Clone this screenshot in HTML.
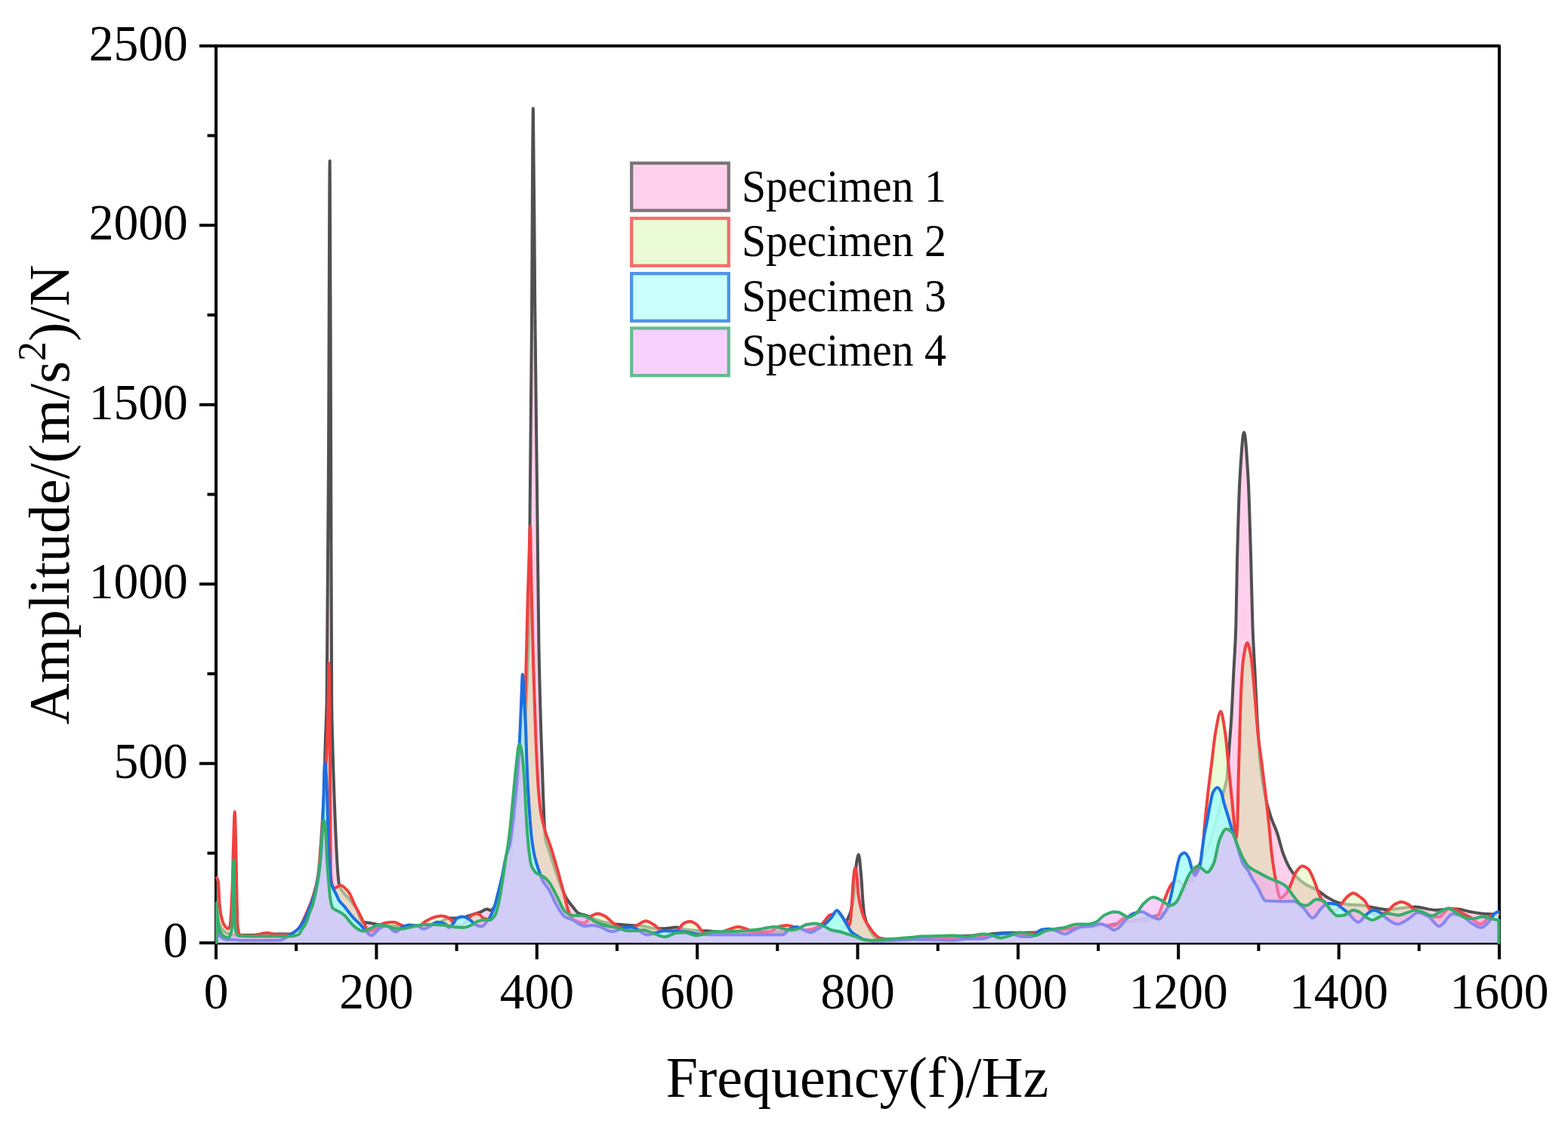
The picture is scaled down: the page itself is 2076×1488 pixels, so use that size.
<!DOCTYPE html>
<html><head><meta charset="utf-8"><style>
html,body{margin:0;padding:0;background:#fff;}
svg{display:block;}
text{font-family:"Liberation Serif","Times New Roman",serif;fill:#000;}
</style></head><body>
<svg width="2076" height="1488" viewBox="0 0 2076 1488">
<rect width="2076" height="1488" fill="#fff"/>
<g stroke="#000" stroke-width="4" fill="none" stroke-linecap="butt" stroke-linejoin="round">
<rect x="286" y="60.8" width="1699" height="1187.6"/>
<path d="M264,1248.3H286M264,1010.8H286M264,773.3H286M264,535.7H286M264,298.2H286M264,60.7H286M274.5,1129.5H286M274.5,892.0H286M274.5,654.5H286M274.5,417.0H286M274.5,179.5H286M286.0,1248.3V1270M498.4,1248.3V1270M710.8,1248.3V1270M923.1,1248.3V1270M1135.5,1248.3V1270M1347.9,1248.3V1270M1560.2,1248.3V1270M1772.6,1248.3V1270M1985.0,1248.3V1270M392.2,1248.3V1259M604.6,1248.3V1259M816.9,1248.3V1259M1029.3,1248.3V1259M1241.7,1248.3V1259M1454.1,1248.3V1259M1666.4,1248.3V1259M1878.8,1248.3V1259"/>
</g>
<defs>
<clipPath id="plot"><rect x="286" y="58" width="1699" height="1190"/></clipPath>
<clipPath id="cg"><path d="M287,1205C288,1212 289,1219.26 290,1222C292,1227.48 294,1230.1 296,1232C298,1233.9 300,1235.46 302,1236C306.33,1237.17 310.67,1238 315,1238C320,1238 325,1238 330,1238C336.67,1238 343.33,1237.24 350,1237C356,1236.79 362,1236.5 368,1236.5C373.33,1236.5 378.67,1236.5 384,1236.5C387.67,1236.5 391.33,1234.31 395,1232C399,1229.48 403,1222.37 407,1215C409.67,1210.09 412.33,1203.43 415,1195C417,1188.67 419,1181.06 421,1170C422.67,1160.78 424.33,1151.23 426,1130C426.93,1118.11 427.87,1089.09 428.8,1060C429.47,1039.22 430.13,1001.79 430.8,980C431.4,960.39 432,956.88 432.6,930C433.4,894.16 434.2,739.11 435,600C435.57,501.46 436.13,213 436.7,213C437.17,213 437.63,465.5 438.1,600C438.47,705.67 438.83,898.92 439.2,930C439.53,958.25 439.87,966.91 440.2,980C441.37,1025.83 442.53,1056.85 443.7,1084.8C444.87,1112.75 446.03,1140.56 447.2,1154.7C447.77,1161.57 448.33,1168.07 448.9,1170.4C449.93,1174.64 450.97,1176.23 452,1178C455.33,1183.71 458.67,1185.84 462,1190C465.33,1194.16 468.67,1197.48 472,1203C474.67,1207.42 477.33,1220.24 480,1220.8C483.47,1221.53 486.93,1221.42 490.4,1221.9C493.87,1222.38 497.33,1223.51 500.8,1224C507.2,1224.91 513.6,1226 520,1226C526.67,1226 533.33,1226 540,1226C546.67,1226 553.33,1225.5 560,1225C566.67,1224.5 573.33,1223.53 580,1222C584.87,1220.88 589.73,1215.6 594.6,1215.6C597.4,1215.6 600.2,1215.6 603,1215.6C607,1215.6 611,1214.75 615,1214C618.33,1213.38 621.67,1212.04 625,1211C628.75,1209.82 632.5,1208.73 636.25,1207.3C639.03,1206.24 641.82,1203.6 644.6,1203.6C646.33,1203.6 648.07,1205.2 649.8,1205.2C651.53,1205.2 653.27,1202.16 655,1200C657.33,1197.09 659.67,1193.26 662,1188C664.33,1182.74 666.67,1174.25 669,1165C671.33,1155.75 673.67,1143.38 676,1130C678,1118.53 680,1103.33 682,1090C684,1076.67 686,1065.34 688,1050C689.5,1038.49 691,1027.75 692.5,1010C693.5,998.17 694.5,980.54 695.5,960C696.27,944.25 697.03,922.32 697.8,900C698.8,870.89 699.8,862.18 700.8,800C701.07,783.42 701.33,713.8 701.6,680C702.33,587.06 703.07,539.45 703.8,450C704.5,364.61 705.2,143.5 705.9,143.5C706.67,143.5 707.43,324.32 708.2,400C709.27,505.29 710.33,587.16 711.4,680C712.07,738.03 712.73,816.08 713.4,853.3C714.37,907.28 715.33,935.78 716.3,968.8C717.27,1001.82 718.23,1032.81 719.2,1055.5C720.13,1077.41 721.07,1104.04 722,1109.7C723.63,1119.61 725.27,1120.72 726.9,1126C729.67,1134.95 732.43,1143.71 735.2,1152C737.63,1159.29 740.07,1167.04 742.5,1173C745.27,1179.78 748.03,1186.15 750.8,1190.6C753.2,1194.46 755.6,1197.12 758,1200C760.83,1203.4 763.67,1208.12 766.5,1209.4C769.6,1210.8 772.7,1210.97 775.8,1212C780.33,1213.5 784.87,1216.19 789.4,1217.7C794.6,1219.44 799.8,1221.08 805,1222C808.47,1222.61 811.93,1223.05 815.4,1223.4C822.35,1224.1 829.3,1224.52 836.25,1225C841.47,1225.36 846.68,1225.49 851.9,1226C857.1,1226.51 862.3,1229.2 867.5,1229.2C871.67,1229.2 875.83,1229.2 880,1229.2C885.2,1229.2 890.4,1227.6 895.6,1227.6C900.4,1227.6 905.2,1230.55 910,1231C918,1231.74 926,1231.83 934,1232.3C942.67,1232.81 951.33,1234 960,1234C973.33,1234 986.67,1234 1000,1234C1013.33,1234 1026.67,1233 1040,1233C1050,1233 1060,1234.29 1070,1235C1076.67,1235.47 1083.33,1236.5 1090,1236.5C1095,1236.5 1100,1236.35 1105,1236C1107.33,1235.84 1109.67,1234.51 1112,1233C1113.67,1231.92 1115.33,1229.5 1117,1227C1118.57,1224.65 1120.13,1221.03 1121.7,1217.7C1123.07,1214.79 1124.43,1212.4 1125.8,1208.3C1127.2,1204.1 1128.6,1199.46 1130,1190C1131,1183.24 1132,1157.35 1133,1150C1134.27,1140.69 1135.53,1131.2 1136.8,1131.2C1138,1131.2 1139.2,1149.02 1140.4,1162.5C1141.1,1170.36 1141.8,1185.94 1142.5,1193.75C1143.2,1201.56 1143.9,1209.44 1144.6,1212.5C1147.4,1224.74 1150.2,1228.27 1153,1233.3C1154.67,1236.3 1156.33,1239.35 1158,1240.6C1160.33,1242.35 1162.67,1244 1165,1244C1176.67,1244 1188.33,1243.44 1200,1243C1216.67,1242.37 1233.33,1240.8 1250,1240C1266.67,1239.2 1283.33,1239.07 1300,1238C1307.23,1237.54 1314.47,1235.69 1321.7,1235.4C1337.3,1234.78 1352.9,1234.94 1368.5,1234.4C1379,1234.04 1389.5,1232.9 1400,1232C1413.33,1230.85 1426.67,1229.44 1440,1228C1450,1226.92 1460,1225.93 1470,1224.5C1480,1223.07 1490,1221.1 1500,1219C1513.33,1216.2 1526.67,1214.64 1540,1209C1548.33,1205.47 1556.67,1193.72 1565,1183C1571.67,1174.42 1578.33,1162.11 1585,1150C1590,1140.92 1595,1132.62 1600,1120C1604,1109.91 1608,1094.54 1612,1080C1614.73,1070.06 1617.47,1058.55 1620.2,1047.6C1621.53,1042.26 1622.87,1039.82 1624.2,1031.4C1625.23,1024.88 1626.27,1004.84 1627.3,991.2C1628.3,978 1629.3,967.03 1630.3,950.9C1631.3,934.77 1632.3,910.55 1633.3,890.4C1634.3,870.25 1635.3,860.28 1636.3,830C1636.87,812.84 1637.43,763.79 1638,741.4C1639.2,693.98 1640.4,652.58 1641.6,632.6C1643.43,602.07 1645.27,572.2 1647.1,572.2C1648.9,572.2 1650.7,602.59 1652.5,632.6C1653.73,653.16 1654.97,699.83 1656.2,741.4C1656.97,767.24 1657.73,809.44 1658.5,830C1659.5,856.82 1660.5,870.25 1661.5,890.4C1662.5,910.55 1663.5,933.74 1664.5,950.9C1665.87,974.36 1667.23,998.39 1668.6,1011.3C1670.6,1030.2 1672.6,1041.87 1674.6,1051.6C1677.3,1064.73 1680,1073.67 1682.7,1081.8C1685.37,1089.83 1688.03,1094.24 1690.7,1102C1693.4,1109.85 1696.1,1122.48 1698.8,1129.8C1701.7,1137.66 1704.6,1144.39 1707.5,1149.2C1710.27,1153.79 1713.03,1157.38 1715.8,1160.2C1720.37,1164.86 1724.93,1168.41 1729.5,1171.2C1734.1,1174.01 1738.7,1175.33 1743.3,1178C1747.87,1180.65 1752.43,1185.03 1757,1187.7C1761.63,1190.41 1766.27,1193.26 1770.9,1194.6C1775.47,1195.92 1780.03,1196.92 1784.6,1197.4C1791.5,1198.13 1798.4,1198.08 1805.3,1198.8C1809.87,1199.28 1814.43,1200.71 1819,1201.5C1824.87,1202.52 1830.73,1204.2 1836.6,1204.2C1848.8,1204.2 1861,1200.5 1873.2,1200.5C1882.37,1200.5 1891.53,1204.7 1900.7,1204.7C1909.83,1204.7 1918.97,1203.3 1928.1,1203.3C1934.2,1203.3 1940.3,1205.96 1946.4,1207C1952.5,1208.04 1958.6,1209.3 1964.7,1209.7C1971.13,1210.12 1977.57,1210.5 1984,1210.5L1984,1248L287,1248Z"/></clipPath>
</defs>
<g stroke-width="4" stroke-linejoin="round" stroke-linecap="round">
<path d="M287,1205C288,1212 289,1219.26 290,1222C292,1227.48 294,1230.1 296,1232C298,1233.9 300,1235.46 302,1236C306.33,1237.17 310.67,1238 315,1238C320,1238 325,1238 330,1238C336.67,1238 343.33,1237.24 350,1237C356,1236.79 362,1236.5 368,1236.5C373.33,1236.5 378.67,1236.5 384,1236.5C387.67,1236.5 391.33,1234.31 395,1232C399,1229.48 403,1222.37 407,1215C409.67,1210.09 412.33,1203.43 415,1195C417,1188.67 419,1181.06 421,1170C422.67,1160.78 424.33,1151.23 426,1130C426.93,1118.11 427.87,1089.09 428.8,1060C429.47,1039.22 430.13,1001.79 430.8,980C431.4,960.39 432,956.88 432.6,930C433.4,894.16 434.2,739.11 435,600C435.57,501.46 436.13,213 436.7,213C437.17,213 437.63,465.5 438.1,600C438.47,705.67 438.83,898.92 439.2,930C439.53,958.25 439.87,966.91 440.2,980C441.37,1025.83 442.53,1056.85 443.7,1084.8C444.87,1112.75 446.03,1140.56 447.2,1154.7C447.77,1161.57 448.33,1168.07 448.9,1170.4C449.93,1174.64 450.97,1176.23 452,1178C455.33,1183.71 458.67,1185.84 462,1190C465.33,1194.16 468.67,1197.48 472,1203C474.67,1207.42 477.33,1220.24 480,1220.8C483.47,1221.53 486.93,1221.42 490.4,1221.9C493.87,1222.38 497.33,1223.51 500.8,1224C507.2,1224.91 513.6,1226 520,1226C526.67,1226 533.33,1226 540,1226C546.67,1226 553.33,1225.5 560,1225C566.67,1224.5 573.33,1223.53 580,1222C584.87,1220.88 589.73,1215.6 594.6,1215.6C597.4,1215.6 600.2,1215.6 603,1215.6C607,1215.6 611,1214.75 615,1214C618.33,1213.38 621.67,1212.04 625,1211C628.75,1209.82 632.5,1208.73 636.25,1207.3C639.03,1206.24 641.82,1203.6 644.6,1203.6C646.33,1203.6 648.07,1205.2 649.8,1205.2C651.53,1205.2 653.27,1202.16 655,1200C657.33,1197.09 659.67,1193.26 662,1188C664.33,1182.74 666.67,1174.25 669,1165C671.33,1155.75 673.67,1143.38 676,1130C678,1118.53 680,1103.33 682,1090C684,1076.67 686,1065.34 688,1050C689.5,1038.49 691,1027.75 692.5,1010C693.5,998.17 694.5,980.54 695.5,960C696.27,944.25 697.03,922.32 697.8,900C698.8,870.89 699.8,862.18 700.8,800C701.07,783.42 701.33,713.8 701.6,680C702.33,587.06 703.07,539.45 703.8,450C704.5,364.61 705.2,143.5 705.9,143.5C706.67,143.5 707.43,324.32 708.2,400C709.27,505.29 710.33,587.16 711.4,680C712.07,738.03 712.73,816.08 713.4,853.3C714.37,907.28 715.33,935.78 716.3,968.8C717.27,1001.82 718.23,1032.81 719.2,1055.5C720.13,1077.41 721.07,1104.04 722,1109.7C723.63,1119.61 725.27,1120.72 726.9,1126C729.67,1134.95 732.43,1143.71 735.2,1152C737.63,1159.29 740.07,1167.04 742.5,1173C745.27,1179.78 748.03,1186.15 750.8,1190.6C753.2,1194.46 755.6,1197.12 758,1200C760.83,1203.4 763.67,1208.12 766.5,1209.4C769.6,1210.8 772.7,1210.97 775.8,1212C780.33,1213.5 784.87,1216.19 789.4,1217.7C794.6,1219.44 799.8,1221.08 805,1222C808.47,1222.61 811.93,1223.05 815.4,1223.4C822.35,1224.1 829.3,1224.52 836.25,1225C841.47,1225.36 846.68,1225.49 851.9,1226C857.1,1226.51 862.3,1229.2 867.5,1229.2C871.67,1229.2 875.83,1229.2 880,1229.2C885.2,1229.2 890.4,1227.6 895.6,1227.6C900.4,1227.6 905.2,1230.55 910,1231C918,1231.74 926,1231.83 934,1232.3C942.67,1232.81 951.33,1234 960,1234C973.33,1234 986.67,1234 1000,1234C1013.33,1234 1026.67,1233 1040,1233C1050,1233 1060,1234.29 1070,1235C1076.67,1235.47 1083.33,1236.5 1090,1236.5C1095,1236.5 1100,1236.35 1105,1236C1107.33,1235.84 1109.67,1234.51 1112,1233C1113.67,1231.92 1115.33,1229.5 1117,1227C1118.57,1224.65 1120.13,1221.03 1121.7,1217.7C1123.07,1214.79 1124.43,1212.4 1125.8,1208.3C1127.2,1204.1 1128.6,1199.46 1130,1190C1131,1183.24 1132,1157.35 1133,1150C1134.27,1140.69 1135.53,1131.2 1136.8,1131.2C1138,1131.2 1139.2,1149.02 1140.4,1162.5C1141.1,1170.36 1141.8,1185.94 1142.5,1193.75C1143.2,1201.56 1143.9,1209.44 1144.6,1212.5C1147.4,1224.74 1150.2,1228.27 1153,1233.3C1154.67,1236.3 1156.33,1239.35 1158,1240.6C1160.33,1242.35 1162.67,1244 1165,1244C1176.67,1244 1188.33,1243.44 1200,1243C1216.67,1242.37 1233.33,1240.8 1250,1240C1266.67,1239.2 1283.33,1239.07 1300,1238C1307.23,1237.54 1314.47,1235.69 1321.7,1235.4C1337.3,1234.78 1352.9,1234.94 1368.5,1234.4C1379,1234.04 1389.5,1232.9 1400,1232C1413.33,1230.85 1426.67,1229.44 1440,1228C1450,1226.92 1460,1225.93 1470,1224.5C1480,1223.07 1490,1221.1 1500,1219C1513.33,1216.2 1526.67,1214.64 1540,1209C1548.33,1205.47 1556.67,1193.72 1565,1183C1571.67,1174.42 1578.33,1162.11 1585,1150C1590,1140.92 1595,1132.62 1600,1120C1604,1109.91 1608,1094.54 1612,1080C1614.73,1070.06 1617.47,1058.55 1620.2,1047.6C1621.53,1042.26 1622.87,1039.82 1624.2,1031.4C1625.23,1024.88 1626.27,1004.84 1627.3,991.2C1628.3,978 1629.3,967.03 1630.3,950.9C1631.3,934.77 1632.3,910.55 1633.3,890.4C1634.3,870.25 1635.3,860.28 1636.3,830C1636.87,812.84 1637.43,763.79 1638,741.4C1639.2,693.98 1640.4,652.58 1641.6,632.6C1643.43,602.07 1645.27,572.2 1647.1,572.2C1648.9,572.2 1650.7,602.59 1652.5,632.6C1653.73,653.16 1654.97,699.83 1656.2,741.4C1656.97,767.24 1657.73,809.44 1658.5,830C1659.5,856.82 1660.5,870.25 1661.5,890.4C1662.5,910.55 1663.5,933.74 1664.5,950.9C1665.87,974.36 1667.23,998.39 1668.6,1011.3C1670.6,1030.2 1672.6,1041.87 1674.6,1051.6C1677.3,1064.73 1680,1073.67 1682.7,1081.8C1685.37,1089.83 1688.03,1094.24 1690.7,1102C1693.4,1109.85 1696.1,1122.48 1698.8,1129.8C1701.7,1137.66 1704.6,1144.39 1707.5,1149.2C1710.27,1153.79 1713.03,1157.38 1715.8,1160.2C1720.37,1164.86 1724.93,1168.41 1729.5,1171.2C1734.1,1174.01 1738.7,1175.33 1743.3,1178C1747.87,1180.65 1752.43,1185.03 1757,1187.7C1761.63,1190.41 1766.27,1193.26 1770.9,1194.6C1775.47,1195.92 1780.03,1196.92 1784.6,1197.4C1791.5,1198.13 1798.4,1198.08 1805.3,1198.8C1809.87,1199.28 1814.43,1200.71 1819,1201.5C1824.87,1202.52 1830.73,1204.2 1836.6,1204.2C1848.8,1204.2 1861,1200.5 1873.2,1200.5C1882.37,1200.5 1891.53,1204.7 1900.7,1204.7C1909.83,1204.7 1918.97,1203.3 1928.1,1203.3C1934.2,1203.3 1940.3,1205.96 1946.4,1207C1952.5,1208.04 1958.6,1209.3 1964.7,1209.7C1971.13,1210.12 1977.57,1210.5 1984,1210.5L1984,1248L287,1248Z" fill="#FFAADC" fill-opacity="0.55" stroke="none" clip-path="url(#plot)"/>
<g clip-path="url(#cg)"><path d="M286.8,1162C287.57,1162 288.33,1164.38 289.1,1168.4C289.53,1170.67 289.97,1189.02 290.4,1194C291.23,1203.59 292.07,1209.34 292.9,1213C294.2,1218.71 295.5,1222.51 296.8,1224.5C298.5,1227.1 300.2,1229.6 301.9,1229.6C302.73,1229.6 303.57,1228.04 304.4,1225.8C305.47,1222.94 306.53,1200.51 307.6,1174.8C308.03,1164.36 308.47,1137.46 308.9,1123.8C309.53,1103.83 310.17,1074.8 310.8,1074.8C311.23,1074.8 311.67,1095.1 312.1,1111C312.5,1125.68 312.9,1156.7 313.3,1174.8C313.73,1194.4 314.17,1222.02 314.6,1225.8C315.47,1233.36 316.33,1237.05 317.2,1237.3C322.13,1238.72 327.07,1239 332,1239C339,1239 346,1235 353,1235C358.17,1235 363.33,1237.5 368.5,1237.5C373.67,1237.5 378.83,1237.34 384,1237C387.53,1236.77 391.07,1233.44 394.6,1230C398.73,1225.98 402.87,1215.31 407,1206C409.67,1199.99 412.33,1193.68 415,1185C417,1178.49 419,1172.56 421,1160C422.67,1149.54 424.33,1122.87 426,1100C427.27,1082.62 428.53,1061.13 429.8,1040C430.93,1021.09 432.07,1008.09 433.2,980C433.67,968.43 434.13,950.96 434.6,930C434.9,916.53 435.2,878 435.5,878C435.8,878 436.1,904.45 436.4,930C436.57,944.19 436.73,969.77 436.9,1000C437.03,1024.18 437.17,1079.33 437.3,1100C437.47,1125.84 437.63,1152.06 437.8,1155C438.53,1167.95 439.27,1170.03 440,1172C440.83,1174.24 441.67,1176 442.5,1176C445.27,1176 448.03,1171.9 450.8,1171.9C454.37,1171.9 457.93,1176.64 461.5,1181C464.33,1184.47 467.17,1192.85 470,1198.5C472.67,1203.82 475.33,1208.74 478,1214C479.33,1216.63 480.67,1219.17 482,1222C483.07,1224.26 484.13,1227.97 485.2,1229.2C486.93,1231.19 488.67,1233 490.4,1233C493.87,1233 497.33,1227.95 500.8,1226C503.53,1224.46 506.27,1222.45 509,1222C513.23,1221.3 517.47,1220.8 521.7,1220.8C525.13,1220.8 528.57,1223.98 532,1225C536.33,1226.29 540.67,1228 545,1228C548.33,1228 551.67,1227.07 555,1226C557.77,1225.11 560.53,1221.47 563.3,1219.8C566.78,1217.7 570.27,1215.6 573.75,1214.6C577.23,1213.6 580.72,1212.5 584.2,1212.5C587.67,1212.5 591.13,1213.87 594.6,1215.6C595.98,1216.29 597.37,1218.27 598.75,1219.8C600.17,1221.37 601.58,1224.57 603,1225C605,1225.61 607,1226 609,1226C611.13,1226 613.27,1223.62 615.4,1221.9C618.18,1219.65 620.97,1214.38 623.75,1212.5C625.83,1211.09 627.92,1209.4 630,1209.4C631.4,1209.4 632.8,1209.9 634.2,1210.4C636.27,1211.14 638.33,1214.87 640.4,1215.6C642.5,1216.34 644.6,1217 646.7,1217C648.47,1217 650.23,1212.99 652,1210C654.67,1205.49 657.33,1198.89 660,1190C662.67,1181.11 665.33,1164.81 668,1150C670.67,1135.19 673.33,1116.67 676,1100C678.67,1083.33 681.33,1067.23 684,1050C686,1037.08 688,1028.78 690,1010C691.17,999.04 692.33,980.83 693.5,960C694.37,944.53 695.23,925.84 696.1,900C696.9,876.15 697.7,828.59 698.5,800C699.13,777.37 699.77,759.14 700.4,740C700.9,724.89 701.4,696.4 701.9,696.4C702.37,696.4 702.83,745.59 703.3,766.6C704.27,810.11 705.23,849.19 706.2,882.2C707.17,915.21 708.13,944.89 709.1,968.8C710.23,996.83 711.37,1024.63 712.5,1040C713.67,1055.82 714.83,1067.66 716,1075C717.9,1086.96 719.8,1093.38 721.7,1100C724.13,1108.48 726.57,1113.33 729,1120.8C732.1,1130.32 735.2,1141.04 738.3,1152C741.1,1161.89 743.9,1172.75 746.7,1183.3C748.8,1191.22 750.9,1202.68 753,1207.3C755.33,1212.43 757.67,1216.77 760,1218C764.58,1220.42 769.17,1222 773.75,1222C776.5,1222 779.25,1214.56 782,1213C785.17,1211.2 788.33,1209.4 791.5,1209.4C794.97,1209.4 798.43,1211.66 801.9,1213.5C806.4,1215.89 810.9,1222.57 815.4,1225C819.6,1227.26 823.8,1230 828,1230C832.5,1230 837,1227.67 841.5,1226C846,1224.33 850.5,1219.3 855,1219.3C858.47,1219.3 861.93,1222.02 865.4,1224C868.53,1225.79 871.67,1229.99 874.8,1231.25C878.2,1232.62 881.6,1234 885,1234C888.53,1234 892.07,1233.28 895.6,1232.3C899.07,1231.34 902.53,1223.4 906,1221.9C908.43,1220.85 910.87,1219.8 913.3,1219.8C916.1,1219.8 918.9,1221.71 921.7,1223.4C925.13,1225.47 928.57,1233.62 932,1234.4C936.33,1235.39 940.67,1236 945,1236C951.1,1236 957.2,1232.99 963.3,1231.25C967.83,1229.96 972.37,1227 976.9,1227C981.07,1227 985.23,1228.83 989.4,1230.2C992.93,1231.36 996.47,1235 1000,1235C1006.67,1235 1013.33,1234.22 1020,1233C1023.67,1232.33 1027.33,1227.48 1031,1226.6C1034.5,1225.76 1038,1225 1041.5,1225C1044.27,1225 1047.03,1225.83 1049.8,1226.6C1053.2,1227.55 1056.6,1232 1060,1232C1065,1232 1070,1231.08 1075,1230C1079.43,1229.05 1083.87,1226.2 1088.3,1223C1091.78,1220.48 1095.27,1212.79 1098.75,1211.5C1101.83,1210.35 1104.92,1209.4 1108,1209.4C1110.13,1209.4 1112.27,1212.68 1114.4,1214.6C1116.83,1216.79 1119.27,1218.55 1121.7,1222C1122.38,1222.97 1123.07,1226 1123.75,1226C1124.43,1226 1125.12,1223.07 1125.8,1219.8C1126.53,1216.29 1127.27,1203.65 1128,1193.75C1128.67,1184.75 1129.33,1168.82 1130,1162.5C1130.67,1156.18 1131.33,1148.9 1132,1148.9C1132.73,1148.9 1133.47,1152.97 1134.2,1157.3C1134.88,1161.34 1135.57,1178.15 1136.25,1183.3C1137.63,1193.72 1139.02,1198.79 1140.4,1204C1141.8,1209.27 1143.2,1213.64 1144.6,1216.7C1146.67,1221.22 1148.73,1223.95 1150.8,1227C1153.2,1230.54 1155.6,1234.1 1158,1236.5C1160.13,1238.64 1162.27,1241.11 1164.4,1241.7C1169.6,1243.14 1174.8,1244 1180,1244C1193.33,1244 1206.67,1243.43 1220,1243C1240,1242.35 1260,1241 1280,1240C1293.33,1239.33 1306.67,1238.67 1320,1238C1333.33,1237.33 1346.67,1236.95 1360,1236C1373.33,1235.05 1386.67,1232.48 1400,1231C1413.33,1229.52 1426.67,1228.18 1440,1227C1448.33,1226.27 1456.67,1225 1465,1225C1468.33,1225 1471.67,1225.5 1475,1225.5C1479.33,1225.5 1483.67,1216 1488,1216C1492,1216 1496,1220 1500,1220C1505,1220 1510,1219.54 1515,1219C1519,1218.57 1523,1217.53 1527,1216C1529,1215.23 1531,1214.04 1533,1212C1535.53,1209.42 1538.07,1199.79 1540.6,1194C1544.27,1185.62 1547.93,1172.67 1551.6,1169.8C1554.37,1167.63 1557.13,1165.7 1559.9,1165.7C1561.73,1165.7 1563.57,1171.2 1565.4,1171.2C1568.6,1171.2 1571.8,1169.62 1575,1168C1577.67,1166.65 1580.33,1163.58 1583,1160C1585.33,1156.87 1587.67,1154.39 1590,1146C1590.73,1143.36 1591.47,1135.27 1592.2,1128C1593.13,1118.75 1594.07,1102.5 1595,1092C1596.37,1076.62 1597.73,1063.76 1599.1,1051.6C1600.77,1036.77 1602.43,1024.73 1604.1,1011.3C1605.77,997.87 1607.43,980.25 1609.1,971C1611.47,957.86 1613.83,941.8 1616.2,941.8C1618.2,941.8 1620.2,957.7 1622.2,971C1623.57,980.09 1624.93,997.7 1626.3,1011.3C1627.63,1024.57 1628.97,1038.17 1630.3,1051.6C1631.63,1065.03 1632.97,1079.94 1634.3,1091.9C1635.03,1098.48 1635.77,1110 1636.5,1110C1637.1,1110 1637.7,1102.18 1638.3,1091.9C1638.73,1084.48 1639.17,1048.45 1639.6,1031.4C1640.2,1007.8 1640.8,990.09 1641.4,971C1642.07,949.79 1642.73,923.32 1643.4,910.6C1644.4,891.52 1645.4,876.56 1646.4,870.3C1648.07,859.86 1649.73,851.1 1651.4,851.1C1653.1,851.1 1654.8,860.81 1656.5,870.3C1657.83,877.75 1659.17,896 1660.5,910.6C1662.17,928.85 1663.83,955.07 1665.5,971C1667.2,987.25 1668.9,997.73 1670.6,1011.3C1672.27,1024.6 1673.93,1037.39 1675.6,1051.6C1677.07,1064.1 1678.53,1077.16 1680,1091.3C1681.33,1104.15 1682.67,1121.91 1684,1132.6C1685.63,1145.69 1687.27,1156.17 1688.9,1164.3C1690.97,1174.59 1693.03,1189 1695.1,1189C1697.87,1189 1700.63,1185.51 1703.4,1182.2C1705.23,1180.01 1707.07,1175.18 1708.9,1171.2C1711.2,1166.21 1713.5,1158.01 1715.8,1154.7C1718.53,1150.77 1721.27,1146.4 1724,1146.4C1726.77,1146.4 1729.53,1148.33 1732.3,1150.6C1734.6,1152.49 1736.9,1159.18 1739.2,1164.3C1742.4,1171.42 1745.6,1183.83 1748.8,1189C1751.53,1193.42 1754.27,1196.54 1757,1198.8C1760.67,1201.83 1764.33,1205.6 1768,1205.6C1770.8,1205.6 1773.6,1199.24 1776.4,1196C1779.13,1192.84 1781.87,1188.57 1784.6,1186.4C1786.9,1184.57 1789.2,1182.2 1791.5,1182.2C1794.67,1182.2 1797.83,1185.46 1801,1187.7C1803.1,1189.18 1805.2,1190.77 1807.3,1193.2C1809.43,1195.67 1811.57,1201.57 1813.7,1204.2C1816.47,1207.6 1819.23,1212 1822,1212C1826.87,1212 1831.73,1209.58 1836.6,1207C1839.67,1205.38 1842.73,1199.56 1845.8,1197.8C1848.87,1196.04 1851.93,1194.1 1855,1194.1C1858,1194.1 1861,1195.51 1864,1196.9C1866.47,1198.05 1868.93,1201.46 1871.4,1203.3C1875.93,1206.68 1880.47,1211.18 1885,1212C1891.67,1213.21 1898.33,1214 1905,1214C1909.67,1214 1914.33,1202.4 1919,1202.4C1922.03,1202.4 1925.07,1203.3 1928.1,1204.2C1931.17,1205.11 1934.23,1208.02 1937.3,1209.7C1940.33,1211.36 1943.37,1212.57 1946.4,1214.3C1950.93,1216.89 1955.47,1223.4 1960,1223.4C1964.63,1223.4 1969.27,1213.7 1973.9,1212.4C1977.27,1211.45 1980.63,1210.6 1984,1210.6L1984,1248L286.8,1248Z" fill="#FFAADC" stroke="none" clip-path="url(#plot)"/></g>
<path d="M287,1205C288,1212 289,1219.26 290,1222C292,1227.48 294,1230.1 296,1232C298,1233.9 300,1235.46 302,1236C306.33,1237.17 310.67,1238 315,1238C320,1238 325,1238 330,1238C336.67,1238 343.33,1237.24 350,1237C356,1236.79 362,1236.5 368,1236.5C373.33,1236.5 378.67,1236.5 384,1236.5C387.67,1236.5 391.33,1234.31 395,1232C399,1229.48 403,1222.37 407,1215C409.67,1210.09 412.33,1203.43 415,1195C417,1188.67 419,1181.06 421,1170C422.67,1160.78 424.33,1151.23 426,1130C426.93,1118.11 427.87,1089.09 428.8,1060C429.47,1039.22 430.13,1001.79 430.8,980C431.4,960.39 432,956.88 432.6,930C433.4,894.16 434.2,739.11 435,600C435.57,501.46 436.13,213 436.7,213C437.17,213 437.63,465.5 438.1,600C438.47,705.67 438.83,898.92 439.2,930C439.53,958.25 439.87,966.91 440.2,980C441.37,1025.83 442.53,1056.85 443.7,1084.8C444.87,1112.75 446.03,1140.56 447.2,1154.7C447.77,1161.57 448.33,1168.07 448.9,1170.4C449.93,1174.64 450.97,1176.23 452,1178C455.33,1183.71 458.67,1185.84 462,1190C465.33,1194.16 468.67,1197.48 472,1203C474.67,1207.42 477.33,1220.24 480,1220.8C483.47,1221.53 486.93,1221.42 490.4,1221.9C493.87,1222.38 497.33,1223.51 500.8,1224C507.2,1224.91 513.6,1226 520,1226C526.67,1226 533.33,1226 540,1226C546.67,1226 553.33,1225.5 560,1225C566.67,1224.5 573.33,1223.53 580,1222C584.87,1220.88 589.73,1215.6 594.6,1215.6C597.4,1215.6 600.2,1215.6 603,1215.6C607,1215.6 611,1214.75 615,1214C618.33,1213.38 621.67,1212.04 625,1211C628.75,1209.82 632.5,1208.73 636.25,1207.3C639.03,1206.24 641.82,1203.6 644.6,1203.6C646.33,1203.6 648.07,1205.2 649.8,1205.2C651.53,1205.2 653.27,1202.16 655,1200C657.33,1197.09 659.67,1193.26 662,1188C664.33,1182.74 666.67,1174.25 669,1165C671.33,1155.75 673.67,1143.38 676,1130C678,1118.53 680,1103.33 682,1090C684,1076.67 686,1065.34 688,1050C689.5,1038.49 691,1027.75 692.5,1010C693.5,998.17 694.5,980.54 695.5,960C696.27,944.25 697.03,922.32 697.8,900C698.8,870.89 699.8,862.18 700.8,800C701.07,783.42 701.33,713.8 701.6,680C702.33,587.06 703.07,539.45 703.8,450C704.5,364.61 705.2,143.5 705.9,143.5C706.67,143.5 707.43,324.32 708.2,400C709.27,505.29 710.33,587.16 711.4,680C712.07,738.03 712.73,816.08 713.4,853.3C714.37,907.28 715.33,935.78 716.3,968.8C717.27,1001.82 718.23,1032.81 719.2,1055.5C720.13,1077.41 721.07,1104.04 722,1109.7C723.63,1119.61 725.27,1120.72 726.9,1126C729.67,1134.95 732.43,1143.71 735.2,1152C737.63,1159.29 740.07,1167.04 742.5,1173C745.27,1179.78 748.03,1186.15 750.8,1190.6C753.2,1194.46 755.6,1197.12 758,1200C760.83,1203.4 763.67,1208.12 766.5,1209.4C769.6,1210.8 772.7,1210.97 775.8,1212C780.33,1213.5 784.87,1216.19 789.4,1217.7C794.6,1219.44 799.8,1221.08 805,1222C808.47,1222.61 811.93,1223.05 815.4,1223.4C822.35,1224.1 829.3,1224.52 836.25,1225C841.47,1225.36 846.68,1225.49 851.9,1226C857.1,1226.51 862.3,1229.2 867.5,1229.2C871.67,1229.2 875.83,1229.2 880,1229.2C885.2,1229.2 890.4,1227.6 895.6,1227.6C900.4,1227.6 905.2,1230.55 910,1231C918,1231.74 926,1231.83 934,1232.3C942.67,1232.81 951.33,1234 960,1234C973.33,1234 986.67,1234 1000,1234C1013.33,1234 1026.67,1233 1040,1233C1050,1233 1060,1234.29 1070,1235C1076.67,1235.47 1083.33,1236.5 1090,1236.5C1095,1236.5 1100,1236.35 1105,1236C1107.33,1235.84 1109.67,1234.51 1112,1233C1113.67,1231.92 1115.33,1229.5 1117,1227C1118.57,1224.65 1120.13,1221.03 1121.7,1217.7C1123.07,1214.79 1124.43,1212.4 1125.8,1208.3C1127.2,1204.1 1128.6,1199.46 1130,1190C1131,1183.24 1132,1157.35 1133,1150C1134.27,1140.69 1135.53,1131.2 1136.8,1131.2C1138,1131.2 1139.2,1149.02 1140.4,1162.5C1141.1,1170.36 1141.8,1185.94 1142.5,1193.75C1143.2,1201.56 1143.9,1209.44 1144.6,1212.5C1147.4,1224.74 1150.2,1228.27 1153,1233.3C1154.67,1236.3 1156.33,1239.35 1158,1240.6C1160.33,1242.35 1162.67,1244 1165,1244C1176.67,1244 1188.33,1243.44 1200,1243C1216.67,1242.37 1233.33,1240.8 1250,1240C1266.67,1239.2 1283.33,1239.07 1300,1238C1307.23,1237.54 1314.47,1235.69 1321.7,1235.4C1337.3,1234.78 1352.9,1234.94 1368.5,1234.4C1379,1234.04 1389.5,1232.9 1400,1232C1413.33,1230.85 1426.67,1229.44 1440,1228C1450,1226.92 1460,1225.93 1470,1224.5C1480,1223.07 1490,1221.1 1500,1219C1513.33,1216.2 1526.67,1214.64 1540,1209C1548.33,1205.47 1556.67,1193.72 1565,1183C1571.67,1174.42 1578.33,1162.11 1585,1150C1590,1140.92 1595,1132.62 1600,1120C1604,1109.91 1608,1094.54 1612,1080C1614.73,1070.06 1617.47,1058.55 1620.2,1047.6C1621.53,1042.26 1622.87,1039.82 1624.2,1031.4C1625.23,1024.88 1626.27,1004.84 1627.3,991.2C1628.3,978 1629.3,967.03 1630.3,950.9C1631.3,934.77 1632.3,910.55 1633.3,890.4C1634.3,870.25 1635.3,860.28 1636.3,830C1636.87,812.84 1637.43,763.79 1638,741.4C1639.2,693.98 1640.4,652.58 1641.6,632.6C1643.43,602.07 1645.27,572.2 1647.1,572.2C1648.9,572.2 1650.7,602.59 1652.5,632.6C1653.73,653.16 1654.97,699.83 1656.2,741.4C1656.97,767.24 1657.73,809.44 1658.5,830C1659.5,856.82 1660.5,870.25 1661.5,890.4C1662.5,910.55 1663.5,933.74 1664.5,950.9C1665.87,974.36 1667.23,998.39 1668.6,1011.3C1670.6,1030.2 1672.6,1041.87 1674.6,1051.6C1677.3,1064.73 1680,1073.67 1682.7,1081.8C1685.37,1089.83 1688.03,1094.24 1690.7,1102C1693.4,1109.85 1696.1,1122.48 1698.8,1129.8C1701.7,1137.66 1704.6,1144.39 1707.5,1149.2C1710.27,1153.79 1713.03,1157.38 1715.8,1160.2C1720.37,1164.86 1724.93,1168.41 1729.5,1171.2C1734.1,1174.01 1738.7,1175.33 1743.3,1178C1747.87,1180.65 1752.43,1185.03 1757,1187.7C1761.63,1190.41 1766.27,1193.26 1770.9,1194.6C1775.47,1195.92 1780.03,1196.92 1784.6,1197.4C1791.5,1198.13 1798.4,1198.08 1805.3,1198.8C1809.87,1199.28 1814.43,1200.71 1819,1201.5C1824.87,1202.52 1830.73,1204.2 1836.6,1204.2C1848.8,1204.2 1861,1200.5 1873.2,1200.5C1882.37,1200.5 1891.53,1204.7 1900.7,1204.7C1909.83,1204.7 1918.97,1203.3 1928.1,1203.3C1934.2,1203.3 1940.3,1205.96 1946.4,1207C1952.5,1208.04 1958.6,1209.3 1964.7,1209.7C1971.13,1210.12 1977.57,1210.5 1984,1210.5" fill="none" stroke="#505050"/>
<path d="M286.8,1162C287.57,1162 288.33,1164.38 289.1,1168.4C289.53,1170.67 289.97,1189.02 290.4,1194C291.23,1203.59 292.07,1209.34 292.9,1213C294.2,1218.71 295.5,1222.51 296.8,1224.5C298.5,1227.1 300.2,1229.6 301.9,1229.6C302.73,1229.6 303.57,1228.04 304.4,1225.8C305.47,1222.94 306.53,1200.51 307.6,1174.8C308.03,1164.36 308.47,1137.46 308.9,1123.8C309.53,1103.83 310.17,1074.8 310.8,1074.8C311.23,1074.8 311.67,1095.1 312.1,1111C312.5,1125.68 312.9,1156.7 313.3,1174.8C313.73,1194.4 314.17,1222.02 314.6,1225.8C315.47,1233.36 316.33,1237.05 317.2,1237.3C322.13,1238.72 327.07,1239 332,1239C339,1239 346,1235 353,1235C358.17,1235 363.33,1237.5 368.5,1237.5C373.67,1237.5 378.83,1237.34 384,1237C387.53,1236.77 391.07,1233.44 394.6,1230C398.73,1225.98 402.87,1215.31 407,1206C409.67,1199.99 412.33,1193.68 415,1185C417,1178.49 419,1172.56 421,1160C422.67,1149.54 424.33,1122.87 426,1100C427.27,1082.62 428.53,1061.13 429.8,1040C430.93,1021.09 432.07,1008.09 433.2,980C433.67,968.43 434.13,950.96 434.6,930C434.9,916.53 435.2,878 435.5,878C435.8,878 436.1,904.45 436.4,930C436.57,944.19 436.73,969.77 436.9,1000C437.03,1024.18 437.17,1079.33 437.3,1100C437.47,1125.84 437.63,1152.06 437.8,1155C438.53,1167.95 439.27,1170.03 440,1172C440.83,1174.24 441.67,1176 442.5,1176C445.27,1176 448.03,1171.9 450.8,1171.9C454.37,1171.9 457.93,1176.64 461.5,1181C464.33,1184.47 467.17,1192.85 470,1198.5C472.67,1203.82 475.33,1208.74 478,1214C479.33,1216.63 480.67,1219.17 482,1222C483.07,1224.26 484.13,1227.97 485.2,1229.2C486.93,1231.19 488.67,1233 490.4,1233C493.87,1233 497.33,1227.95 500.8,1226C503.53,1224.46 506.27,1222.45 509,1222C513.23,1221.3 517.47,1220.8 521.7,1220.8C525.13,1220.8 528.57,1223.98 532,1225C536.33,1226.29 540.67,1228 545,1228C548.33,1228 551.67,1227.07 555,1226C557.77,1225.11 560.53,1221.47 563.3,1219.8C566.78,1217.7 570.27,1215.6 573.75,1214.6C577.23,1213.6 580.72,1212.5 584.2,1212.5C587.67,1212.5 591.13,1213.87 594.6,1215.6C595.98,1216.29 597.37,1218.27 598.75,1219.8C600.17,1221.37 601.58,1224.57 603,1225C605,1225.61 607,1226 609,1226C611.13,1226 613.27,1223.62 615.4,1221.9C618.18,1219.65 620.97,1214.38 623.75,1212.5C625.83,1211.09 627.92,1209.4 630,1209.4C631.4,1209.4 632.8,1209.9 634.2,1210.4C636.27,1211.14 638.33,1214.87 640.4,1215.6C642.5,1216.34 644.6,1217 646.7,1217C648.47,1217 650.23,1212.99 652,1210C654.67,1205.49 657.33,1198.89 660,1190C662.67,1181.11 665.33,1164.81 668,1150C670.67,1135.19 673.33,1116.67 676,1100C678.67,1083.33 681.33,1067.23 684,1050C686,1037.08 688,1028.78 690,1010C691.17,999.04 692.33,980.83 693.5,960C694.37,944.53 695.23,925.84 696.1,900C696.9,876.15 697.7,828.59 698.5,800C699.13,777.37 699.77,759.14 700.4,740C700.9,724.89 701.4,696.4 701.9,696.4C702.37,696.4 702.83,745.59 703.3,766.6C704.27,810.11 705.23,849.19 706.2,882.2C707.17,915.21 708.13,944.89 709.1,968.8C710.23,996.83 711.37,1024.63 712.5,1040C713.67,1055.82 714.83,1067.66 716,1075C717.9,1086.96 719.8,1093.38 721.7,1100C724.13,1108.48 726.57,1113.33 729,1120.8C732.1,1130.32 735.2,1141.04 738.3,1152C741.1,1161.89 743.9,1172.75 746.7,1183.3C748.8,1191.22 750.9,1202.68 753,1207.3C755.33,1212.43 757.67,1216.77 760,1218C764.58,1220.42 769.17,1222 773.75,1222C776.5,1222 779.25,1214.56 782,1213C785.17,1211.2 788.33,1209.4 791.5,1209.4C794.97,1209.4 798.43,1211.66 801.9,1213.5C806.4,1215.89 810.9,1222.57 815.4,1225C819.6,1227.26 823.8,1230 828,1230C832.5,1230 837,1227.67 841.5,1226C846,1224.33 850.5,1219.3 855,1219.3C858.47,1219.3 861.93,1222.02 865.4,1224C868.53,1225.79 871.67,1229.99 874.8,1231.25C878.2,1232.62 881.6,1234 885,1234C888.53,1234 892.07,1233.28 895.6,1232.3C899.07,1231.34 902.53,1223.4 906,1221.9C908.43,1220.85 910.87,1219.8 913.3,1219.8C916.1,1219.8 918.9,1221.71 921.7,1223.4C925.13,1225.47 928.57,1233.62 932,1234.4C936.33,1235.39 940.67,1236 945,1236C951.1,1236 957.2,1232.99 963.3,1231.25C967.83,1229.96 972.37,1227 976.9,1227C981.07,1227 985.23,1228.83 989.4,1230.2C992.93,1231.36 996.47,1235 1000,1235C1006.67,1235 1013.33,1234.22 1020,1233C1023.67,1232.33 1027.33,1227.48 1031,1226.6C1034.5,1225.76 1038,1225 1041.5,1225C1044.27,1225 1047.03,1225.83 1049.8,1226.6C1053.2,1227.55 1056.6,1232 1060,1232C1065,1232 1070,1231.08 1075,1230C1079.43,1229.05 1083.87,1226.2 1088.3,1223C1091.78,1220.48 1095.27,1212.79 1098.75,1211.5C1101.83,1210.35 1104.92,1209.4 1108,1209.4C1110.13,1209.4 1112.27,1212.68 1114.4,1214.6C1116.83,1216.79 1119.27,1218.55 1121.7,1222C1122.38,1222.97 1123.07,1226 1123.75,1226C1124.43,1226 1125.12,1223.07 1125.8,1219.8C1126.53,1216.29 1127.27,1203.65 1128,1193.75C1128.67,1184.75 1129.33,1168.82 1130,1162.5C1130.67,1156.18 1131.33,1148.9 1132,1148.9C1132.73,1148.9 1133.47,1152.97 1134.2,1157.3C1134.88,1161.34 1135.57,1178.15 1136.25,1183.3C1137.63,1193.72 1139.02,1198.79 1140.4,1204C1141.8,1209.27 1143.2,1213.64 1144.6,1216.7C1146.67,1221.22 1148.73,1223.95 1150.8,1227C1153.2,1230.54 1155.6,1234.1 1158,1236.5C1160.13,1238.64 1162.27,1241.11 1164.4,1241.7C1169.6,1243.14 1174.8,1244 1180,1244C1193.33,1244 1206.67,1243.43 1220,1243C1240,1242.35 1260,1241 1280,1240C1293.33,1239.33 1306.67,1238.67 1320,1238C1333.33,1237.33 1346.67,1236.95 1360,1236C1373.33,1235.05 1386.67,1232.48 1400,1231C1413.33,1229.52 1426.67,1228.18 1440,1227C1448.33,1226.27 1456.67,1225 1465,1225C1468.33,1225 1471.67,1225.5 1475,1225.5C1479.33,1225.5 1483.67,1216 1488,1216C1492,1216 1496,1220 1500,1220C1505,1220 1510,1219.54 1515,1219C1519,1218.57 1523,1217.53 1527,1216C1529,1215.23 1531,1214.04 1533,1212C1535.53,1209.42 1538.07,1199.79 1540.6,1194C1544.27,1185.62 1547.93,1172.67 1551.6,1169.8C1554.37,1167.63 1557.13,1165.7 1559.9,1165.7C1561.73,1165.7 1563.57,1171.2 1565.4,1171.2C1568.6,1171.2 1571.8,1169.62 1575,1168C1577.67,1166.65 1580.33,1163.58 1583,1160C1585.33,1156.87 1587.67,1154.39 1590,1146C1590.73,1143.36 1591.47,1135.27 1592.2,1128C1593.13,1118.75 1594.07,1102.5 1595,1092C1596.37,1076.62 1597.73,1063.76 1599.1,1051.6C1600.77,1036.77 1602.43,1024.73 1604.1,1011.3C1605.77,997.87 1607.43,980.25 1609.1,971C1611.47,957.86 1613.83,941.8 1616.2,941.8C1618.2,941.8 1620.2,957.7 1622.2,971C1623.57,980.09 1624.93,997.7 1626.3,1011.3C1627.63,1024.57 1628.97,1038.17 1630.3,1051.6C1631.63,1065.03 1632.97,1079.94 1634.3,1091.9C1635.03,1098.48 1635.77,1110 1636.5,1110C1637.1,1110 1637.7,1102.18 1638.3,1091.9C1638.73,1084.48 1639.17,1048.45 1639.6,1031.4C1640.2,1007.8 1640.8,990.09 1641.4,971C1642.07,949.79 1642.73,923.32 1643.4,910.6C1644.4,891.52 1645.4,876.56 1646.4,870.3C1648.07,859.86 1649.73,851.1 1651.4,851.1C1653.1,851.1 1654.8,860.81 1656.5,870.3C1657.83,877.75 1659.17,896 1660.5,910.6C1662.17,928.85 1663.83,955.07 1665.5,971C1667.2,987.25 1668.9,997.73 1670.6,1011.3C1672.27,1024.6 1673.93,1037.39 1675.6,1051.6C1677.07,1064.1 1678.53,1077.16 1680,1091.3C1681.33,1104.15 1682.67,1121.91 1684,1132.6C1685.63,1145.69 1687.27,1156.17 1688.9,1164.3C1690.97,1174.59 1693.03,1189 1695.1,1189C1697.87,1189 1700.63,1185.51 1703.4,1182.2C1705.23,1180.01 1707.07,1175.18 1708.9,1171.2C1711.2,1166.21 1713.5,1158.01 1715.8,1154.7C1718.53,1150.77 1721.27,1146.4 1724,1146.4C1726.77,1146.4 1729.53,1148.33 1732.3,1150.6C1734.6,1152.49 1736.9,1159.18 1739.2,1164.3C1742.4,1171.42 1745.6,1183.83 1748.8,1189C1751.53,1193.42 1754.27,1196.54 1757,1198.8C1760.67,1201.83 1764.33,1205.6 1768,1205.6C1770.8,1205.6 1773.6,1199.24 1776.4,1196C1779.13,1192.84 1781.87,1188.57 1784.6,1186.4C1786.9,1184.57 1789.2,1182.2 1791.5,1182.2C1794.67,1182.2 1797.83,1185.46 1801,1187.7C1803.1,1189.18 1805.2,1190.77 1807.3,1193.2C1809.43,1195.67 1811.57,1201.57 1813.7,1204.2C1816.47,1207.6 1819.23,1212 1822,1212C1826.87,1212 1831.73,1209.58 1836.6,1207C1839.67,1205.38 1842.73,1199.56 1845.8,1197.8C1848.87,1196.04 1851.93,1194.1 1855,1194.1C1858,1194.1 1861,1195.51 1864,1196.9C1866.47,1198.05 1868.93,1201.46 1871.4,1203.3C1875.93,1206.68 1880.47,1211.18 1885,1212C1891.67,1213.21 1898.33,1214 1905,1214C1909.67,1214 1914.33,1202.4 1919,1202.4C1922.03,1202.4 1925.07,1203.3 1928.1,1204.2C1931.17,1205.11 1934.23,1208.02 1937.3,1209.7C1940.33,1211.36 1943.37,1212.57 1946.4,1214.3C1950.93,1216.89 1955.47,1223.4 1960,1223.4C1964.63,1223.4 1969.27,1213.7 1973.9,1212.4C1977.27,1211.45 1980.63,1210.6 1984,1210.6L1984,1248L286.8,1248Z" fill="#DCF8B9" fill-opacity="0.6" stroke="none" clip-path="url(#plot)"/>
<path d="M286.8,1162C287.57,1162 288.33,1164.38 289.1,1168.4C289.53,1170.67 289.97,1189.02 290.4,1194C291.23,1203.59 292.07,1209.34 292.9,1213C294.2,1218.71 295.5,1222.51 296.8,1224.5C298.5,1227.1 300.2,1229.6 301.9,1229.6C302.73,1229.6 303.57,1228.04 304.4,1225.8C305.47,1222.94 306.53,1200.51 307.6,1174.8C308.03,1164.36 308.47,1137.46 308.9,1123.8C309.53,1103.83 310.17,1074.8 310.8,1074.8C311.23,1074.8 311.67,1095.1 312.1,1111C312.5,1125.68 312.9,1156.7 313.3,1174.8C313.73,1194.4 314.17,1222.02 314.6,1225.8C315.47,1233.36 316.33,1237.05 317.2,1237.3C322.13,1238.72 327.07,1239 332,1239C339,1239 346,1235 353,1235C358.17,1235 363.33,1237.5 368.5,1237.5C373.67,1237.5 378.83,1237.34 384,1237C387.53,1236.77 391.07,1233.44 394.6,1230C398.73,1225.98 402.87,1215.31 407,1206C409.67,1199.99 412.33,1193.68 415,1185C417,1178.49 419,1172.56 421,1160C422.67,1149.54 424.33,1122.87 426,1100C427.27,1082.62 428.53,1061.13 429.8,1040C430.93,1021.09 432.07,1008.09 433.2,980C433.67,968.43 434.13,950.96 434.6,930C434.9,916.53 435.2,878 435.5,878C435.8,878 436.1,904.45 436.4,930C436.57,944.19 436.73,969.77 436.9,1000C437.03,1024.18 437.17,1079.33 437.3,1100C437.47,1125.84 437.63,1152.06 437.8,1155C438.53,1167.95 439.27,1170.03 440,1172C440.83,1174.24 441.67,1176 442.5,1176C445.27,1176 448.03,1171.9 450.8,1171.9C454.37,1171.9 457.93,1176.64 461.5,1181C464.33,1184.47 467.17,1192.85 470,1198.5C472.67,1203.82 475.33,1208.74 478,1214C479.33,1216.63 480.67,1219.17 482,1222C483.07,1224.26 484.13,1227.97 485.2,1229.2C486.93,1231.19 488.67,1233 490.4,1233C493.87,1233 497.33,1227.95 500.8,1226C503.53,1224.46 506.27,1222.45 509,1222C513.23,1221.3 517.47,1220.8 521.7,1220.8C525.13,1220.8 528.57,1223.98 532,1225C536.33,1226.29 540.67,1228 545,1228C548.33,1228 551.67,1227.07 555,1226C557.77,1225.11 560.53,1221.47 563.3,1219.8C566.78,1217.7 570.27,1215.6 573.75,1214.6C577.23,1213.6 580.72,1212.5 584.2,1212.5C587.67,1212.5 591.13,1213.87 594.6,1215.6C595.98,1216.29 597.37,1218.27 598.75,1219.8C600.17,1221.37 601.58,1224.57 603,1225C605,1225.61 607,1226 609,1226C611.13,1226 613.27,1223.62 615.4,1221.9C618.18,1219.65 620.97,1214.38 623.75,1212.5C625.83,1211.09 627.92,1209.4 630,1209.4C631.4,1209.4 632.8,1209.9 634.2,1210.4C636.27,1211.14 638.33,1214.87 640.4,1215.6C642.5,1216.34 644.6,1217 646.7,1217C648.47,1217 650.23,1212.99 652,1210C654.67,1205.49 657.33,1198.89 660,1190C662.67,1181.11 665.33,1164.81 668,1150C670.67,1135.19 673.33,1116.67 676,1100C678.67,1083.33 681.33,1067.23 684,1050C686,1037.08 688,1028.78 690,1010C691.17,999.04 692.33,980.83 693.5,960C694.37,944.53 695.23,925.84 696.1,900C696.9,876.15 697.7,828.59 698.5,800C699.13,777.37 699.77,759.14 700.4,740C700.9,724.89 701.4,696.4 701.9,696.4C702.37,696.4 702.83,745.59 703.3,766.6C704.27,810.11 705.23,849.19 706.2,882.2C707.17,915.21 708.13,944.89 709.1,968.8C710.23,996.83 711.37,1024.63 712.5,1040C713.67,1055.82 714.83,1067.66 716,1075C717.9,1086.96 719.8,1093.38 721.7,1100C724.13,1108.48 726.57,1113.33 729,1120.8C732.1,1130.32 735.2,1141.04 738.3,1152C741.1,1161.89 743.9,1172.75 746.7,1183.3C748.8,1191.22 750.9,1202.68 753,1207.3C755.33,1212.43 757.67,1216.77 760,1218C764.58,1220.42 769.17,1222 773.75,1222C776.5,1222 779.25,1214.56 782,1213C785.17,1211.2 788.33,1209.4 791.5,1209.4C794.97,1209.4 798.43,1211.66 801.9,1213.5C806.4,1215.89 810.9,1222.57 815.4,1225C819.6,1227.26 823.8,1230 828,1230C832.5,1230 837,1227.67 841.5,1226C846,1224.33 850.5,1219.3 855,1219.3C858.47,1219.3 861.93,1222.02 865.4,1224C868.53,1225.79 871.67,1229.99 874.8,1231.25C878.2,1232.62 881.6,1234 885,1234C888.53,1234 892.07,1233.28 895.6,1232.3C899.07,1231.34 902.53,1223.4 906,1221.9C908.43,1220.85 910.87,1219.8 913.3,1219.8C916.1,1219.8 918.9,1221.71 921.7,1223.4C925.13,1225.47 928.57,1233.62 932,1234.4C936.33,1235.39 940.67,1236 945,1236C951.1,1236 957.2,1232.99 963.3,1231.25C967.83,1229.96 972.37,1227 976.9,1227C981.07,1227 985.23,1228.83 989.4,1230.2C992.93,1231.36 996.47,1235 1000,1235C1006.67,1235 1013.33,1234.22 1020,1233C1023.67,1232.33 1027.33,1227.48 1031,1226.6C1034.5,1225.76 1038,1225 1041.5,1225C1044.27,1225 1047.03,1225.83 1049.8,1226.6C1053.2,1227.55 1056.6,1232 1060,1232C1065,1232 1070,1231.08 1075,1230C1079.43,1229.05 1083.87,1226.2 1088.3,1223C1091.78,1220.48 1095.27,1212.79 1098.75,1211.5C1101.83,1210.35 1104.92,1209.4 1108,1209.4C1110.13,1209.4 1112.27,1212.68 1114.4,1214.6C1116.83,1216.79 1119.27,1218.55 1121.7,1222C1122.38,1222.97 1123.07,1226 1123.75,1226C1124.43,1226 1125.12,1223.07 1125.8,1219.8C1126.53,1216.29 1127.27,1203.65 1128,1193.75C1128.67,1184.75 1129.33,1168.82 1130,1162.5C1130.67,1156.18 1131.33,1148.9 1132,1148.9C1132.73,1148.9 1133.47,1152.97 1134.2,1157.3C1134.88,1161.34 1135.57,1178.15 1136.25,1183.3C1137.63,1193.72 1139.02,1198.79 1140.4,1204C1141.8,1209.27 1143.2,1213.64 1144.6,1216.7C1146.67,1221.22 1148.73,1223.95 1150.8,1227C1153.2,1230.54 1155.6,1234.1 1158,1236.5C1160.13,1238.64 1162.27,1241.11 1164.4,1241.7C1169.6,1243.14 1174.8,1244 1180,1244C1193.33,1244 1206.67,1243.43 1220,1243C1240,1242.35 1260,1241 1280,1240C1293.33,1239.33 1306.67,1238.67 1320,1238C1333.33,1237.33 1346.67,1236.95 1360,1236C1373.33,1235.05 1386.67,1232.48 1400,1231C1413.33,1229.52 1426.67,1228.18 1440,1227C1448.33,1226.27 1456.67,1225 1465,1225C1468.33,1225 1471.67,1225.5 1475,1225.5C1479.33,1225.5 1483.67,1216 1488,1216C1492,1216 1496,1220 1500,1220C1505,1220 1510,1219.54 1515,1219C1519,1218.57 1523,1217.53 1527,1216C1529,1215.23 1531,1214.04 1533,1212C1535.53,1209.42 1538.07,1199.79 1540.6,1194C1544.27,1185.62 1547.93,1172.67 1551.6,1169.8C1554.37,1167.63 1557.13,1165.7 1559.9,1165.7C1561.73,1165.7 1563.57,1171.2 1565.4,1171.2C1568.6,1171.2 1571.8,1169.62 1575,1168C1577.67,1166.65 1580.33,1163.58 1583,1160C1585.33,1156.87 1587.67,1154.39 1590,1146C1590.73,1143.36 1591.47,1135.27 1592.2,1128C1593.13,1118.75 1594.07,1102.5 1595,1092C1596.37,1076.62 1597.73,1063.76 1599.1,1051.6C1600.77,1036.77 1602.43,1024.73 1604.1,1011.3C1605.77,997.87 1607.43,980.25 1609.1,971C1611.47,957.86 1613.83,941.8 1616.2,941.8C1618.2,941.8 1620.2,957.7 1622.2,971C1623.57,980.09 1624.93,997.7 1626.3,1011.3C1627.63,1024.57 1628.97,1038.17 1630.3,1051.6C1631.63,1065.03 1632.97,1079.94 1634.3,1091.9C1635.03,1098.48 1635.77,1110 1636.5,1110C1637.1,1110 1637.7,1102.18 1638.3,1091.9C1638.73,1084.48 1639.17,1048.45 1639.6,1031.4C1640.2,1007.8 1640.8,990.09 1641.4,971C1642.07,949.79 1642.73,923.32 1643.4,910.6C1644.4,891.52 1645.4,876.56 1646.4,870.3C1648.07,859.86 1649.73,851.1 1651.4,851.1C1653.1,851.1 1654.8,860.81 1656.5,870.3C1657.83,877.75 1659.17,896 1660.5,910.6C1662.17,928.85 1663.83,955.07 1665.5,971C1667.2,987.25 1668.9,997.73 1670.6,1011.3C1672.27,1024.6 1673.93,1037.39 1675.6,1051.6C1677.07,1064.1 1678.53,1077.16 1680,1091.3C1681.33,1104.15 1682.67,1121.91 1684,1132.6C1685.63,1145.69 1687.27,1156.17 1688.9,1164.3C1690.97,1174.59 1693.03,1189 1695.1,1189C1697.87,1189 1700.63,1185.51 1703.4,1182.2C1705.23,1180.01 1707.07,1175.18 1708.9,1171.2C1711.2,1166.21 1713.5,1158.01 1715.8,1154.7C1718.53,1150.77 1721.27,1146.4 1724,1146.4C1726.77,1146.4 1729.53,1148.33 1732.3,1150.6C1734.6,1152.49 1736.9,1159.18 1739.2,1164.3C1742.4,1171.42 1745.6,1183.83 1748.8,1189C1751.53,1193.42 1754.27,1196.54 1757,1198.8C1760.67,1201.83 1764.33,1205.6 1768,1205.6C1770.8,1205.6 1773.6,1199.24 1776.4,1196C1779.13,1192.84 1781.87,1188.57 1784.6,1186.4C1786.9,1184.57 1789.2,1182.2 1791.5,1182.2C1794.67,1182.2 1797.83,1185.46 1801,1187.7C1803.1,1189.18 1805.2,1190.77 1807.3,1193.2C1809.43,1195.67 1811.57,1201.57 1813.7,1204.2C1816.47,1207.6 1819.23,1212 1822,1212C1826.87,1212 1831.73,1209.58 1836.6,1207C1839.67,1205.38 1842.73,1199.56 1845.8,1197.8C1848.87,1196.04 1851.93,1194.1 1855,1194.1C1858,1194.1 1861,1195.51 1864,1196.9C1866.47,1198.05 1868.93,1201.46 1871.4,1203.3C1875.93,1206.68 1880.47,1211.18 1885,1212C1891.67,1213.21 1898.33,1214 1905,1214C1909.67,1214 1914.33,1202.4 1919,1202.4C1922.03,1202.4 1925.07,1203.3 1928.1,1204.2C1931.17,1205.11 1934.23,1208.02 1937.3,1209.7C1940.33,1211.36 1943.37,1212.57 1946.4,1214.3C1950.93,1216.89 1955.47,1223.4 1960,1223.4C1964.63,1223.4 1969.27,1213.7 1973.9,1212.4C1977.27,1211.45 1980.63,1210.6 1984,1210.6" fill="none" stroke="#F04040"/>
<path d="M287,1232C288.67,1235.37 290.33,1238.68 292,1240C294.67,1242.12 297.33,1244 300,1244C303.33,1244 306.67,1244 310,1244C313.33,1244 316.67,1245 320,1245C330,1245 340,1245 350,1245C356.67,1245 363.33,1244.94 370,1244.8C374.67,1244.7 379.33,1240.32 384,1237.5C387.53,1235.36 391.07,1233.43 394.6,1230C398.07,1226.64 401.53,1220.82 405,1214C406.83,1210.39 408.67,1204.78 410.5,1200C412,1196.09 413.5,1192.72 415,1188C416.4,1183.6 417.8,1178.68 419.2,1172C420.97,1163.57 422.73,1155.28 424.5,1137.2C425.67,1125.26 426.83,1095.43 428,1067.3C428.67,1051.22 429.33,1009 430,1009C430.77,1009 431.53,1020.37 432.3,1032.4C432.87,1041.29 433.43,1067.83 434,1084.8C434.6,1102.77 435.2,1126.69 435.8,1137.2C436.67,1152.38 437.53,1164.69 438.4,1168.6C439.43,1173.26 440.47,1174.68 441.5,1177C442.8,1179.92 444.1,1181.76 445.4,1184.4C446.52,1186.67 447.63,1189.94 448.75,1191.7C451.13,1195.45 453.52,1197.13 455.9,1200C459.77,1204.66 463.63,1210.32 467.5,1214.6C471,1218.47 474.5,1221.16 478,1225C479.67,1226.83 481.33,1229.28 483,1231C485.83,1233.92 488.67,1238.5 491.5,1238.5C495.67,1238.5 499.83,1229.54 504,1228C506.67,1227.01 509.33,1226 512,1226C515.92,1226 519.83,1233.8 523.75,1233.8C527.17,1233.8 530.58,1227.83 534,1226.6C536.83,1225.58 539.67,1224.5 542.5,1224.5C546,1224.5 549.5,1225.2 553,1226C555.67,1226.61 558.33,1230 561,1230C563.5,1230 566,1227.84 568.5,1226.6C572,1224.87 575.5,1220.8 579,1220.8C582.47,1220.8 585.93,1221.71 589.4,1223C591.13,1223.65 592.87,1228 594.6,1228C596.33,1228 598.07,1224.99 599.8,1223C601.53,1221.01 603.27,1216.46 605,1215.6C607.43,1214.39 609.87,1213.5 612.3,1213.5C615.07,1213.5 617.83,1215.23 620.6,1216.7C622.33,1217.62 624.07,1219.42 625.8,1220.8C627.53,1222.18 629.27,1224.38 631,1225C633.43,1225.87 635.87,1226.6 638.3,1226.6C639.87,1226.6 641.43,1223.8 643,1222C644.9,1219.82 646.8,1217.34 648.7,1214C650.8,1210.31 652.9,1205.25 655,1199C656.4,1194.83 657.8,1188.54 659.2,1183C661.27,1174.82 663.33,1166.95 665.4,1157.3C666.83,1150.61 668.27,1140.4 669.7,1134.7C671.47,1127.68 673.23,1125.9 675,1118C676.67,1110.55 678.33,1094.47 680,1080C681.33,1068.43 682.67,1055.68 684,1040C685.07,1027.45 686.13,1013.17 687.2,995C687.77,985.34 688.33,972.81 688.9,960C689.43,947.95 689.97,932.11 690.5,920C690.93,910.16 691.37,892.8 691.8,892.8C692.77,892.8 693.73,924.05 694.7,940C695.1,946.6 695.5,951.49 695.9,960C696.47,972.05 697.03,998.67 697.6,1012.4C698.5,1034.21 699.4,1051 700.3,1064.8C701.47,1082.7 702.63,1098.83 703.8,1108.5C705.23,1120.38 706.67,1128.52 708.1,1134.7C709.87,1142.32 711.63,1146.9 713.4,1152.1C715.13,1157.21 716.87,1162.67 718.6,1166C721.37,1171.31 724.13,1173.37 726.9,1178C730.37,1183.81 733.83,1193.28 737.3,1199C740.77,1204.72 744.23,1211.31 747.7,1213.5C751.13,1215.66 754.57,1216.14 758,1217.7C763.25,1220.09 768.5,1226 773.75,1226C777.17,1226 780.58,1225 784,1225C787.53,1225 791.07,1226.11 794.6,1227C799.8,1228.31 805,1233.3 810.2,1233.3C812.97,1233.3 815.73,1232.13 818.5,1231.25C820.93,1230.47 823.37,1228.18 825.8,1228C829.28,1227.74 832.77,1227.6 836.25,1227.6C838.33,1227.6 840.42,1228.86 842.5,1229.7C847.33,1231.64 852.17,1237.5 857,1237.5C860.5,1237.5 864,1235.79 867.5,1235C871.67,1234.05 875.83,1232.3 880,1232.3C885.2,1232.3 890.4,1232.56 895.6,1232.8C900.4,1233.02 905.2,1233.42 910,1234C913.9,1234.47 917.8,1236.24 921.7,1236.5C931.13,1237.13 940.57,1237.5 950,1237.5C966.67,1237.5 983.33,1237.5 1000,1237.5C1012,1237.5 1024,1237.5 1036,1237.5C1039.57,1237.5 1043.13,1230.58 1046.7,1229.2C1049.47,1228.13 1052.23,1227 1055,1227C1057.43,1227 1059.87,1229.17 1062.3,1230.2C1065.77,1231.66 1069.23,1234.4 1072.7,1234.4C1075.13,1234.4 1077.57,1232.67 1080,1231.5C1083.47,1229.84 1086.93,1227.67 1090.4,1225C1093.87,1222.33 1097.33,1218.56 1100.8,1214.6C1103.2,1211.86 1105.6,1205.2 1108,1205.2C1110.13,1205.2 1112.27,1209.59 1114.4,1212.5C1116.83,1215.82 1119.27,1220.99 1121.7,1225C1123.43,1227.86 1125.17,1231.53 1126.9,1233.3C1129.27,1235.72 1131.63,1237.07 1134,1238.5C1137.67,1240.71 1141.33,1243.27 1145,1244C1150,1245 1155,1245.8 1160,1245.8C1178.33,1245.8 1196.67,1243.75 1215,1243.75C1230,1243.75 1245,1245 1260,1245C1266.67,1245 1273.33,1243.17 1280,1243C1286.67,1242.83 1293.33,1242.89 1300,1242.7C1307.23,1242.5 1314.47,1237.29 1321.7,1236.5C1326.9,1235.93 1332.1,1235.4 1337.3,1235.4C1342.2,1235.4 1347.1,1240 1352,1240C1356.33,1240 1360.67,1240 1365,1240C1369.67,1240 1374.33,1231.46 1379,1230.7C1382.47,1230.14 1385.93,1229.7 1389.4,1229.7C1392.93,1229.7 1396.47,1231.85 1400,1233C1403.4,1234.11 1406.8,1236.5 1410.2,1236.5C1413.47,1236.5 1416.73,1233.49 1420,1232C1423.67,1230.32 1427.33,1227.43 1431,1227C1436.23,1226.39 1441.47,1226.57 1446.7,1226C1450.13,1225.62 1453.57,1223 1457,1223C1460.5,1223 1464,1225.37 1467.5,1227C1469.93,1228.13 1472.37,1231.25 1474.8,1231.25C1476.53,1231.25 1478.27,1230.03 1480,1229C1483.33,1227.02 1486.67,1221.26 1490,1218C1493.1,1214.97 1496.2,1210.95 1499.3,1209.8C1503.43,1208.27 1507.57,1207 1511.7,1207C1515.13,1207 1518.57,1210.57 1522,1212C1526.33,1213.81 1530.67,1216.7 1535,1216.7C1537.33,1216.7 1539.67,1211.33 1542,1208C1543.33,1206.1 1544.67,1204.45 1546,1201.5C1546.97,1199.36 1547.93,1195.63 1548.9,1192C1551.2,1183.37 1553.5,1169.92 1555.8,1160C1558.07,1150.23 1560.33,1135 1562.6,1132.6C1564.47,1130.63 1566.33,1129.1 1568.2,1129.1C1570.03,1129.1 1571.87,1132.19 1573.7,1135.4C1575.07,1137.79 1576.43,1145.48 1577.8,1149.2C1579.2,1153.01 1580.6,1158.8 1582,1158.8C1584.27,1158.8 1586.53,1152.68 1588.8,1145C1589.87,1141.38 1590.93,1129.48 1592,1122.1C1593,1115.18 1594,1107.5 1595,1102C1596,1096.5 1597,1093.03 1598,1088C1599.33,1081.29 1600.67,1072.39 1602,1066C1603.33,1059.61 1604.67,1051.45 1606,1049C1607.93,1045.44 1609.87,1042.5 1611.8,1042.5C1613.53,1042.5 1615.27,1045.56 1617,1049C1618.07,1051.12 1619.13,1057.82 1620.2,1061.7C1622.23,1069.09 1624.27,1075.03 1626.3,1081.8C1628.3,1088.46 1630.3,1095.69 1632.3,1102C1633.87,1106.94 1635.43,1111.2 1637,1116C1639.77,1124.47 1642.53,1136.76 1645.3,1142.3C1648.13,1147.97 1650.97,1149.54 1653.8,1154.7C1654.63,1156.22 1655.47,1158.6 1656.3,1160.2C1659.13,1165.64 1661.97,1169.31 1664.8,1174C1668.47,1180.07 1672.13,1192.33 1675.8,1192.6C1682.23,1193.07 1688.67,1193.25 1695.1,1193.25C1701.07,1193.25 1707.03,1193.25 1713,1193.25C1717.13,1193.25 1721.27,1198.06 1725.4,1201.5C1729.53,1204.94 1733.67,1215.3 1737.8,1215.3C1741.93,1215.3 1746.07,1204.88 1750.2,1201.5C1752.97,1199.24 1755.73,1196 1758.5,1196C1761.7,1196 1764.9,1196.28 1768.1,1196.7C1771.3,1197.12 1774.5,1200.6 1777.7,1202.9C1780,1204.55 1782.3,1206.47 1784.6,1208.4C1789.2,1212.26 1793.8,1220.8 1798.4,1220.8C1802.03,1220.8 1805.67,1213.14 1809.3,1210.5C1812.37,1208.27 1815.43,1205 1818.5,1205C1821.67,1205 1824.83,1206.76 1828,1208.5C1830.27,1209.75 1832.53,1213.58 1834.8,1215.2C1839.97,1218.9 1845.13,1223.4 1850.3,1223.4C1854.87,1223.4 1859.43,1219.5 1864,1217C1868.6,1214.48 1873.2,1207.9 1877.8,1207.9C1882.37,1207.9 1886.93,1210.84 1891.5,1213.4C1896.1,1215.98 1900.7,1226.2 1905.3,1226.2C1911.4,1226.2 1917.5,1209.7 1923.6,1209.7C1928.17,1209.7 1932.73,1211.49 1937.3,1213.4C1940.33,1214.67 1943.37,1218.8 1946.4,1220.7C1951.27,1223.75 1956.13,1228 1961,1228C1965.3,1228 1969.6,1222.01 1973.9,1217C1975.43,1215.21 1976.97,1210.87 1978.5,1209.7C1980.33,1208.3 1982.17,1207 1984,1207L1984,1248L287,1248Z" fill="#A6FFFA" fill-opacity="0.85" stroke="none" clip-path="url(#plot)"/>
<path d="M287,1232C288.67,1235.37 290.33,1238.68 292,1240C294.67,1242.12 297.33,1244 300,1244C303.33,1244 306.67,1244 310,1244C313.33,1244 316.67,1245 320,1245C330,1245 340,1245 350,1245C356.67,1245 363.33,1244.94 370,1244.8C374.67,1244.7 379.33,1240.32 384,1237.5C387.53,1235.36 391.07,1233.43 394.6,1230C398.07,1226.64 401.53,1220.82 405,1214C406.83,1210.39 408.67,1204.78 410.5,1200C412,1196.09 413.5,1192.72 415,1188C416.4,1183.6 417.8,1178.68 419.2,1172C420.97,1163.57 422.73,1155.28 424.5,1137.2C425.67,1125.26 426.83,1095.43 428,1067.3C428.67,1051.22 429.33,1009 430,1009C430.77,1009 431.53,1020.37 432.3,1032.4C432.87,1041.29 433.43,1067.83 434,1084.8C434.6,1102.77 435.2,1126.69 435.8,1137.2C436.67,1152.38 437.53,1164.69 438.4,1168.6C439.43,1173.26 440.47,1174.68 441.5,1177C442.8,1179.92 444.1,1181.76 445.4,1184.4C446.52,1186.67 447.63,1189.94 448.75,1191.7C451.13,1195.45 453.52,1197.13 455.9,1200C459.77,1204.66 463.63,1210.32 467.5,1214.6C471,1218.47 474.5,1221.16 478,1225C479.67,1226.83 481.33,1229.28 483,1231C485.83,1233.92 488.67,1238.5 491.5,1238.5C495.67,1238.5 499.83,1229.54 504,1228C506.67,1227.01 509.33,1226 512,1226C515.92,1226 519.83,1233.8 523.75,1233.8C527.17,1233.8 530.58,1227.83 534,1226.6C536.83,1225.58 539.67,1224.5 542.5,1224.5C546,1224.5 549.5,1225.2 553,1226C555.67,1226.61 558.33,1230 561,1230C563.5,1230 566,1227.84 568.5,1226.6C572,1224.87 575.5,1220.8 579,1220.8C582.47,1220.8 585.93,1221.71 589.4,1223C591.13,1223.65 592.87,1228 594.6,1228C596.33,1228 598.07,1224.99 599.8,1223C601.53,1221.01 603.27,1216.46 605,1215.6C607.43,1214.39 609.87,1213.5 612.3,1213.5C615.07,1213.5 617.83,1215.23 620.6,1216.7C622.33,1217.62 624.07,1219.42 625.8,1220.8C627.53,1222.18 629.27,1224.38 631,1225C633.43,1225.87 635.87,1226.6 638.3,1226.6C639.87,1226.6 641.43,1223.8 643,1222C644.9,1219.82 646.8,1217.34 648.7,1214C650.8,1210.31 652.9,1205.25 655,1199C656.4,1194.83 657.8,1188.54 659.2,1183C661.27,1174.82 663.33,1166.95 665.4,1157.3C666.83,1150.61 668.27,1140.4 669.7,1134.7C671.47,1127.68 673.23,1125.9 675,1118C676.67,1110.55 678.33,1094.47 680,1080C681.33,1068.43 682.67,1055.68 684,1040C685.07,1027.45 686.13,1013.17 687.2,995C687.77,985.34 688.33,972.81 688.9,960C689.43,947.95 689.97,932.11 690.5,920C690.93,910.16 691.37,892.8 691.8,892.8C692.77,892.8 693.73,924.05 694.7,940C695.1,946.6 695.5,951.49 695.9,960C696.47,972.05 697.03,998.67 697.6,1012.4C698.5,1034.21 699.4,1051 700.3,1064.8C701.47,1082.7 702.63,1098.83 703.8,1108.5C705.23,1120.38 706.67,1128.52 708.1,1134.7C709.87,1142.32 711.63,1146.9 713.4,1152.1C715.13,1157.21 716.87,1162.67 718.6,1166C721.37,1171.31 724.13,1173.37 726.9,1178C730.37,1183.81 733.83,1193.28 737.3,1199C740.77,1204.72 744.23,1211.31 747.7,1213.5C751.13,1215.66 754.57,1216.14 758,1217.7C763.25,1220.09 768.5,1226 773.75,1226C777.17,1226 780.58,1225 784,1225C787.53,1225 791.07,1226.11 794.6,1227C799.8,1228.31 805,1233.3 810.2,1233.3C812.97,1233.3 815.73,1232.13 818.5,1231.25C820.93,1230.47 823.37,1228.18 825.8,1228C829.28,1227.74 832.77,1227.6 836.25,1227.6C838.33,1227.6 840.42,1228.86 842.5,1229.7C847.33,1231.64 852.17,1237.5 857,1237.5C860.5,1237.5 864,1235.79 867.5,1235C871.67,1234.05 875.83,1232.3 880,1232.3C885.2,1232.3 890.4,1232.56 895.6,1232.8C900.4,1233.02 905.2,1233.42 910,1234C913.9,1234.47 917.8,1236.24 921.7,1236.5C931.13,1237.13 940.57,1237.5 950,1237.5C966.67,1237.5 983.33,1237.5 1000,1237.5C1012,1237.5 1024,1237.5 1036,1237.5C1039.57,1237.5 1043.13,1230.58 1046.7,1229.2C1049.47,1228.13 1052.23,1227 1055,1227C1057.43,1227 1059.87,1229.17 1062.3,1230.2C1065.77,1231.66 1069.23,1234.4 1072.7,1234.4C1075.13,1234.4 1077.57,1232.67 1080,1231.5C1083.47,1229.84 1086.93,1227.67 1090.4,1225C1093.87,1222.33 1097.33,1218.56 1100.8,1214.6C1103.2,1211.86 1105.6,1205.2 1108,1205.2C1110.13,1205.2 1112.27,1209.59 1114.4,1212.5C1116.83,1215.82 1119.27,1220.99 1121.7,1225C1123.43,1227.86 1125.17,1231.53 1126.9,1233.3C1129.27,1235.72 1131.63,1237.07 1134,1238.5C1137.67,1240.71 1141.33,1243.27 1145,1244C1150,1245 1155,1245.8 1160,1245.8C1178.33,1245.8 1196.67,1243.75 1215,1243.75C1230,1243.75 1245,1245 1260,1245C1266.67,1245 1273.33,1243.17 1280,1243C1286.67,1242.83 1293.33,1242.89 1300,1242.7C1307.23,1242.5 1314.47,1237.29 1321.7,1236.5C1326.9,1235.93 1332.1,1235.4 1337.3,1235.4C1342.2,1235.4 1347.1,1240 1352,1240C1356.33,1240 1360.67,1240 1365,1240C1369.67,1240 1374.33,1231.46 1379,1230.7C1382.47,1230.14 1385.93,1229.7 1389.4,1229.7C1392.93,1229.7 1396.47,1231.85 1400,1233C1403.4,1234.11 1406.8,1236.5 1410.2,1236.5C1413.47,1236.5 1416.73,1233.49 1420,1232C1423.67,1230.32 1427.33,1227.43 1431,1227C1436.23,1226.39 1441.47,1226.57 1446.7,1226C1450.13,1225.62 1453.57,1223 1457,1223C1460.5,1223 1464,1225.37 1467.5,1227C1469.93,1228.13 1472.37,1231.25 1474.8,1231.25C1476.53,1231.25 1478.27,1230.03 1480,1229C1483.33,1227.02 1486.67,1221.26 1490,1218C1493.1,1214.97 1496.2,1210.95 1499.3,1209.8C1503.43,1208.27 1507.57,1207 1511.7,1207C1515.13,1207 1518.57,1210.57 1522,1212C1526.33,1213.81 1530.67,1216.7 1535,1216.7C1537.33,1216.7 1539.67,1211.33 1542,1208C1543.33,1206.1 1544.67,1204.45 1546,1201.5C1546.97,1199.36 1547.93,1195.63 1548.9,1192C1551.2,1183.37 1553.5,1169.92 1555.8,1160C1558.07,1150.23 1560.33,1135 1562.6,1132.6C1564.47,1130.63 1566.33,1129.1 1568.2,1129.1C1570.03,1129.1 1571.87,1132.19 1573.7,1135.4C1575.07,1137.79 1576.43,1145.48 1577.8,1149.2C1579.2,1153.01 1580.6,1158.8 1582,1158.8C1584.27,1158.8 1586.53,1152.68 1588.8,1145C1589.87,1141.38 1590.93,1129.48 1592,1122.1C1593,1115.18 1594,1107.5 1595,1102C1596,1096.5 1597,1093.03 1598,1088C1599.33,1081.29 1600.67,1072.39 1602,1066C1603.33,1059.61 1604.67,1051.45 1606,1049C1607.93,1045.44 1609.87,1042.5 1611.8,1042.5C1613.53,1042.5 1615.27,1045.56 1617,1049C1618.07,1051.12 1619.13,1057.82 1620.2,1061.7C1622.23,1069.09 1624.27,1075.03 1626.3,1081.8C1628.3,1088.46 1630.3,1095.69 1632.3,1102C1633.87,1106.94 1635.43,1111.2 1637,1116C1639.77,1124.47 1642.53,1136.76 1645.3,1142.3C1648.13,1147.97 1650.97,1149.54 1653.8,1154.7C1654.63,1156.22 1655.47,1158.6 1656.3,1160.2C1659.13,1165.64 1661.97,1169.31 1664.8,1174C1668.47,1180.07 1672.13,1192.33 1675.8,1192.6C1682.23,1193.07 1688.67,1193.25 1695.1,1193.25C1701.07,1193.25 1707.03,1193.25 1713,1193.25C1717.13,1193.25 1721.27,1198.06 1725.4,1201.5C1729.53,1204.94 1733.67,1215.3 1737.8,1215.3C1741.93,1215.3 1746.07,1204.88 1750.2,1201.5C1752.97,1199.24 1755.73,1196 1758.5,1196C1761.7,1196 1764.9,1196.28 1768.1,1196.7C1771.3,1197.12 1774.5,1200.6 1777.7,1202.9C1780,1204.55 1782.3,1206.47 1784.6,1208.4C1789.2,1212.26 1793.8,1220.8 1798.4,1220.8C1802.03,1220.8 1805.67,1213.14 1809.3,1210.5C1812.37,1208.27 1815.43,1205 1818.5,1205C1821.67,1205 1824.83,1206.76 1828,1208.5C1830.27,1209.75 1832.53,1213.58 1834.8,1215.2C1839.97,1218.9 1845.13,1223.4 1850.3,1223.4C1854.87,1223.4 1859.43,1219.5 1864,1217C1868.6,1214.48 1873.2,1207.9 1877.8,1207.9C1882.37,1207.9 1886.93,1210.84 1891.5,1213.4C1896.1,1215.98 1900.7,1226.2 1905.3,1226.2C1911.4,1226.2 1917.5,1209.7 1923.6,1209.7C1928.17,1209.7 1932.73,1211.49 1937.3,1213.4C1940.33,1214.67 1943.37,1218.8 1946.4,1220.7C1951.27,1223.75 1956.13,1228 1961,1228C1965.3,1228 1969.6,1222.01 1973.9,1217C1975.43,1215.21 1976.97,1210.87 1978.5,1209.7C1980.33,1208.3 1982.17,1207 1984,1207" fill="none" stroke="#1B6FE0"/>
<path d="M286.8,1195.2C287.37,1205.2 287.93,1215.37 288.5,1219.4C289.57,1226.99 290.63,1231.35 291.7,1233.5C293.4,1236.93 295.1,1239.01 296.8,1239.8C298.7,1240.68 300.6,1241.4 302.5,1241.4C303.5,1241.4 304.5,1238.9 305.5,1236C306.07,1234.36 306.63,1231.99 307.2,1226C307.63,1221.42 308.07,1193.39 308.5,1175C308.77,1163.68 309.03,1138.5 309.3,1138.5C309.6,1138.5 309.9,1162.05 310.2,1175C310.57,1190.83 310.93,1222.31 311.3,1226C311.87,1231.71 312.43,1233.61 313,1235C313.83,1237.04 314.67,1238.69 315.5,1238.8C317.77,1239.1 320.03,1239.14 322.3,1239.2C331.53,1239.44 340.77,1239.6 350,1239.6C361.33,1239.6 372.67,1239.6 384,1239.6C387.53,1239.6 391.07,1238.83 394.6,1237.5C396.4,1236.82 398.2,1232.68 400,1230C401.67,1227.52 403.33,1225.39 405,1222C406.67,1218.61 408.33,1212.39 410,1208C411.33,1204.49 412.67,1202.24 414,1198C415.17,1194.29 416.33,1188.4 417.5,1183C418.5,1178.38 419.5,1173.93 420.5,1168C421.33,1163.05 422.17,1157.5 423,1150C423.83,1142.5 424.67,1130.21 425.5,1120C426.17,1111.83 426.83,1101.24 427.5,1095C427.93,1090.94 428.37,1085 428.8,1085C429.67,1085 430.53,1092.89 431.4,1102.3C431.93,1108.09 432.47,1130.94 433,1140C433.5,1148.49 434,1154.1 434.5,1160C435.5,1171.81 436.5,1185.47 437.5,1191C438.47,1196.35 439.43,1200.86 440.4,1202C441.93,1203.8 443.47,1204.13 445,1205C446.67,1205.95 448.33,1206.53 450,1207.5C452.33,1208.86 454.67,1210.33 457,1212.5C458.37,1213.77 459.73,1215.96 461.1,1217.6C463.23,1220.16 465.37,1222.97 467.5,1225C469.47,1226.87 471.43,1228.63 473.4,1229.8C474.93,1230.71 476.47,1231.34 478,1232C478.67,1232.29 479.33,1232.8 480,1232.8C483.47,1232.8 486.93,1230.56 490.4,1229.2C493.87,1227.84 497.33,1224.5 500.8,1224.5C504.28,1224.5 507.77,1224.98 511.25,1225.5C514.73,1226.02 518.22,1228.9 521.7,1229.2C525.13,1229.49 528.57,1229.7 532,1229.7C535.5,1229.7 539,1228.37 542.5,1227.6C546,1226.83 549.5,1225.49 553,1225C556.43,1224.52 559.87,1224 563.3,1224C566.78,1224 570.27,1224 573.75,1224C577.17,1224 580.58,1224.25 584,1224.5C587.53,1224.76 591.07,1225.48 594.6,1226C598.07,1226.51 601.53,1227.35 605,1227.6C607.77,1227.8 610.53,1228 613.3,1228C616.78,1228 620.27,1226.39 623.75,1225C626.5,1223.9 629.25,1220.71 632,1219.8C635.17,1218.75 638.33,1217.7 641.5,1217.7C643.67,1217.7 645.83,1218 648,1218C650.5,1218 653,1215.09 655.5,1211.5C657.33,1208.86 659.17,1200.32 661,1192C662.47,1185.34 663.93,1174.49 665.4,1165C666.77,1156.16 668.13,1145.76 669.5,1137C670.77,1128.88 672.03,1123.25 673.3,1114C674.37,1106.21 675.43,1095.4 676.5,1085C677.67,1073.63 678.83,1059.99 680,1048C681.17,1036.01 682.33,1022.65 683.5,1013C684.83,1001.98 686.17,985 687.5,985C688.57,985 689.63,989.92 690.7,995C691.83,1000.4 692.97,1014.5 694.1,1029.9C695,1042.13 695.9,1068.03 696.8,1082.3C697.67,1096.04 698.53,1108.75 699.4,1117.2C700.57,1128.57 701.73,1139.08 702.9,1143.4C703.77,1146.61 704.63,1148.49 705.5,1150C706.97,1152.56 708.43,1154.49 709.9,1155.6C712.8,1157.8 715.7,1158.1 718.6,1160C721.37,1161.82 724.13,1164.35 726.9,1167.7C730.37,1171.9 733.83,1180.08 737.3,1186.5C740.77,1192.92 744.23,1203.26 747.7,1206.25C751.13,1209.21 754.57,1212 758,1212C762.2,1212 766.4,1212 770.6,1212C773.4,1212 776.2,1213.47 779,1214.6C782.47,1216 785.93,1219.29 789.4,1220.8C794.6,1223.07 799.8,1224.68 805,1226C810.2,1227.32 815.4,1227.92 820.6,1229.2C824.07,1230.05 827.53,1232.3 831,1232.3C834.5,1232.3 838,1232.3 841.5,1232.3C844.97,1232.3 848.43,1231.25 851.9,1231.25C855.37,1231.25 858.83,1233.21 862.3,1234.4C865.77,1235.59 869.23,1237.46 872.7,1238.5C875.13,1239.23 877.57,1240.3 880,1240.3C885.2,1240.3 890.4,1235.49 895.6,1235C899.07,1234.67 902.53,1234.4 906,1234.4C911.23,1234.4 916.47,1238.5 921.7,1238.5C925.13,1238.5 928.57,1237.18 932,1236.5C937.23,1235.46 942.47,1233.3 947.7,1233.3C952.9,1233.3 958.1,1233.3 963.3,1233.3C970.27,1233.3 977.23,1232.75 984.2,1232.3C991.13,1231.85 998.07,1231.05 1005,1230.2C1011.93,1229.35 1018.87,1227 1025.8,1227C1029.28,1227 1032.77,1228.49 1036.25,1229.2C1039.73,1229.91 1043.22,1231.25 1046.7,1231.25C1050.13,1231.25 1053.57,1230.17 1057,1229.2C1060.5,1228.21 1064,1224.72 1067.5,1224C1071.67,1223.14 1075.83,1222.4 1080,1222.4C1083.47,1222.4 1086.93,1224.58 1090.4,1226C1093.87,1227.42 1097.33,1230.27 1100.8,1231.25C1104.28,1232.23 1107.77,1232.47 1111.25,1233.3C1114.73,1234.13 1118.22,1235.44 1121.7,1236.5C1125.13,1237.54 1128.57,1238.43 1132,1239.6C1135.5,1240.8 1139,1243 1142.5,1243.75C1146,1244.5 1149.5,1245.3 1153,1245.3C1156.43,1245.3 1159.87,1244.6 1163.3,1244.3C1170.2,1243.7 1177.1,1243.23 1184,1242.7C1191,1242.16 1198,1241.7 1205,1241.1C1210.2,1240.66 1215.4,1239.8 1220.6,1239.6C1229.3,1239.26 1238,1239.24 1246.7,1239C1251.9,1238.86 1257.1,1238.5 1262.3,1238.5C1268.2,1238.5 1274.1,1240 1280,1240C1286.93,1240 1293.87,1236.5 1300.8,1236.5C1304.28,1236.5 1307.77,1237 1311.25,1237.5C1315.77,1238.15 1320.28,1241.7 1324.8,1241.7C1328.97,1241.7 1333.13,1239.7 1337.3,1238.5C1341.47,1237.3 1345.63,1234.4 1349.8,1234.4C1354.3,1234.4 1358.8,1235.58 1363.3,1236.5C1365.73,1237 1368.17,1238.5 1370.6,1238.5C1375.13,1238.5 1379.67,1233.55 1384.2,1232.3C1387.67,1231.35 1391.13,1230.84 1394.6,1230.2C1399.8,1229.24 1405,1228.67 1410.2,1227.6C1415.4,1226.53 1420.6,1223.4 1425.8,1223.4C1431.03,1223.4 1436.27,1223.4 1441.5,1223.4C1444.6,1223.4 1447.7,1222.07 1450.8,1220.8C1454.63,1219.23 1458.47,1213.33 1462.3,1211.5C1466.47,1209.51 1470.63,1207.3 1474.8,1207.3C1476.53,1207.3 1478.27,1207.39 1480,1207.5C1484.6,1207.79 1489.2,1214 1493.8,1214C1497,1214 1500.2,1211.85 1503.4,1209.8C1507.07,1207.45 1510.73,1199.22 1514.4,1196C1518.53,1192.37 1522.67,1187.7 1526.8,1187.7C1530.5,1187.7 1534.2,1190.15 1537.9,1191.9C1541.57,1193.63 1545.23,1198.8 1548.9,1198.8C1551.63,1198.8 1554.37,1196.83 1557.1,1194.6C1559.87,1192.35 1562.63,1183.68 1565.4,1178C1569.07,1170.47 1572.73,1159.16 1576.4,1154.7C1579.6,1150.81 1582.8,1146.4 1586,1146.4C1590.17,1146.4 1594.33,1154.7 1598.5,1154.7C1601.23,1154.7 1603.97,1149.18 1606.7,1143.7C1609.47,1138.15 1612.23,1116.76 1615,1110.6C1617.83,1104.29 1620.67,1097.5 1623.5,1097.5C1626.17,1097.5 1628.83,1099.7 1631.5,1102.3C1633.8,1104.54 1636.1,1113.38 1638.4,1118.9C1640.7,1124.42 1643,1131.17 1645.3,1135.4C1648.1,1140.55 1650.9,1145.39 1653.7,1147.8C1657.8,1151.33 1661.9,1152.73 1666,1155C1671.1,1157.82 1676.2,1160.7 1681.3,1163C1685.9,1165.08 1690.5,1166.16 1695.1,1168.5C1697.87,1169.91 1700.63,1171.54 1703.4,1174C1706.13,1176.43 1708.87,1181.64 1711.6,1185C1715.27,1189.51 1718.93,1196.2 1722.6,1197.4C1724.9,1198.15 1727.2,1198.8 1729.5,1198.8C1734.1,1198.8 1738.7,1190.5 1743.3,1190.5C1746.53,1190.5 1749.77,1191.71 1753,1193.25C1755.73,1194.55 1758.47,1201.44 1761.2,1204.3C1764.43,1207.68 1767.67,1212.5 1770.9,1212.5C1773.63,1212.5 1776.37,1212.18 1779.1,1211.8C1783.23,1211.22 1787.37,1205 1791.5,1205C1794.33,1205 1797.17,1206.31 1800,1207.5C1803.1,1208.8 1806.2,1212.69 1809.3,1214.5C1811.7,1215.9 1814.1,1218 1816.5,1218C1820.17,1218 1823.83,1215.01 1827.5,1213.4C1830.53,1212.07 1833.57,1209.2 1836.6,1209.2C1841.5,1209.2 1846.4,1211.5 1851.3,1211.5C1855.53,1211.5 1859.77,1209.14 1864,1207.9C1867.07,1207 1870.13,1205.1 1873.2,1205.1C1876.27,1205.1 1879.33,1206.19 1882.4,1207C1886.97,1208.21 1891.53,1212.4 1896.1,1212.4C1899.17,1212.4 1902.23,1209.36 1905.3,1207.9C1909.27,1206.01 1913.23,1202.4 1917.2,1202.4C1920.83,1202.4 1924.47,1205.98 1928.1,1207.9C1932.7,1210.33 1937.3,1215.16 1941.9,1215.6C1944.93,1215.89 1947.97,1216.1 1951,1216.1C1954.97,1216.1 1958.93,1213.4 1962.9,1213.4C1966.57,1213.4 1970.23,1215.27 1973.9,1216.1C1976.93,1216.78 1979.97,1217.42 1983,1218L1983,1248L286.8,1248Z" fill="#F2A0FC" fill-opacity="0.5" stroke="none" clip-path="url(#plot)"/>
<path d="M286.8,1195.2C287.37,1205.2 287.93,1215.37 288.5,1219.4C289.57,1226.99 290.63,1231.35 291.7,1233.5C293.4,1236.93 295.1,1239.01 296.8,1239.8C298.7,1240.68 300.6,1241.4 302.5,1241.4C303.5,1241.4 304.5,1238.9 305.5,1236C306.07,1234.36 306.63,1231.99 307.2,1226C307.63,1221.42 308.07,1193.39 308.5,1175C308.77,1163.68 309.03,1138.5 309.3,1138.5C309.6,1138.5 309.9,1162.05 310.2,1175C310.57,1190.83 310.93,1222.31 311.3,1226C311.87,1231.71 312.43,1233.61 313,1235C313.83,1237.04 314.67,1238.69 315.5,1238.8C317.77,1239.1 320.03,1239.14 322.3,1239.2C331.53,1239.44 340.77,1239.6 350,1239.6C361.33,1239.6 372.67,1239.6 384,1239.6C387.53,1239.6 391.07,1238.83 394.6,1237.5C396.4,1236.82 398.2,1232.68 400,1230C401.67,1227.52 403.33,1225.39 405,1222C406.67,1218.61 408.33,1212.39 410,1208C411.33,1204.49 412.67,1202.24 414,1198C415.17,1194.29 416.33,1188.4 417.5,1183C418.5,1178.38 419.5,1173.93 420.5,1168C421.33,1163.05 422.17,1157.5 423,1150C423.83,1142.5 424.67,1130.21 425.5,1120C426.17,1111.83 426.83,1101.24 427.5,1095C427.93,1090.94 428.37,1085 428.8,1085C429.67,1085 430.53,1092.89 431.4,1102.3C431.93,1108.09 432.47,1130.94 433,1140C433.5,1148.49 434,1154.1 434.5,1160C435.5,1171.81 436.5,1185.47 437.5,1191C438.47,1196.35 439.43,1200.86 440.4,1202C441.93,1203.8 443.47,1204.13 445,1205C446.67,1205.95 448.33,1206.53 450,1207.5C452.33,1208.86 454.67,1210.33 457,1212.5C458.37,1213.77 459.73,1215.96 461.1,1217.6C463.23,1220.16 465.37,1222.97 467.5,1225C469.47,1226.87 471.43,1228.63 473.4,1229.8C474.93,1230.71 476.47,1231.34 478,1232C478.67,1232.29 479.33,1232.8 480,1232.8C483.47,1232.8 486.93,1230.56 490.4,1229.2C493.87,1227.84 497.33,1224.5 500.8,1224.5C504.28,1224.5 507.77,1224.98 511.25,1225.5C514.73,1226.02 518.22,1228.9 521.7,1229.2C525.13,1229.49 528.57,1229.7 532,1229.7C535.5,1229.7 539,1228.37 542.5,1227.6C546,1226.83 549.5,1225.49 553,1225C556.43,1224.52 559.87,1224 563.3,1224C566.78,1224 570.27,1224 573.75,1224C577.17,1224 580.58,1224.25 584,1224.5C587.53,1224.76 591.07,1225.48 594.6,1226C598.07,1226.51 601.53,1227.35 605,1227.6C607.77,1227.8 610.53,1228 613.3,1228C616.78,1228 620.27,1226.39 623.75,1225C626.5,1223.9 629.25,1220.71 632,1219.8C635.17,1218.75 638.33,1217.7 641.5,1217.7C643.67,1217.7 645.83,1218 648,1218C650.5,1218 653,1215.09 655.5,1211.5C657.33,1208.86 659.17,1200.32 661,1192C662.47,1185.34 663.93,1174.49 665.4,1165C666.77,1156.16 668.13,1145.76 669.5,1137C670.77,1128.88 672.03,1123.25 673.3,1114C674.37,1106.21 675.43,1095.4 676.5,1085C677.67,1073.63 678.83,1059.99 680,1048C681.17,1036.01 682.33,1022.65 683.5,1013C684.83,1001.98 686.17,985 687.5,985C688.57,985 689.63,989.92 690.7,995C691.83,1000.4 692.97,1014.5 694.1,1029.9C695,1042.13 695.9,1068.03 696.8,1082.3C697.67,1096.04 698.53,1108.75 699.4,1117.2C700.57,1128.57 701.73,1139.08 702.9,1143.4C703.77,1146.61 704.63,1148.49 705.5,1150C706.97,1152.56 708.43,1154.49 709.9,1155.6C712.8,1157.8 715.7,1158.1 718.6,1160C721.37,1161.82 724.13,1164.35 726.9,1167.7C730.37,1171.9 733.83,1180.08 737.3,1186.5C740.77,1192.92 744.23,1203.26 747.7,1206.25C751.13,1209.21 754.57,1212 758,1212C762.2,1212 766.4,1212 770.6,1212C773.4,1212 776.2,1213.47 779,1214.6C782.47,1216 785.93,1219.29 789.4,1220.8C794.6,1223.07 799.8,1224.68 805,1226C810.2,1227.32 815.4,1227.92 820.6,1229.2C824.07,1230.05 827.53,1232.3 831,1232.3C834.5,1232.3 838,1232.3 841.5,1232.3C844.97,1232.3 848.43,1231.25 851.9,1231.25C855.37,1231.25 858.83,1233.21 862.3,1234.4C865.77,1235.59 869.23,1237.46 872.7,1238.5C875.13,1239.23 877.57,1240.3 880,1240.3C885.2,1240.3 890.4,1235.49 895.6,1235C899.07,1234.67 902.53,1234.4 906,1234.4C911.23,1234.4 916.47,1238.5 921.7,1238.5C925.13,1238.5 928.57,1237.18 932,1236.5C937.23,1235.46 942.47,1233.3 947.7,1233.3C952.9,1233.3 958.1,1233.3 963.3,1233.3C970.27,1233.3 977.23,1232.75 984.2,1232.3C991.13,1231.85 998.07,1231.05 1005,1230.2C1011.93,1229.35 1018.87,1227 1025.8,1227C1029.28,1227 1032.77,1228.49 1036.25,1229.2C1039.73,1229.91 1043.22,1231.25 1046.7,1231.25C1050.13,1231.25 1053.57,1230.17 1057,1229.2C1060.5,1228.21 1064,1224.72 1067.5,1224C1071.67,1223.14 1075.83,1222.4 1080,1222.4C1083.47,1222.4 1086.93,1224.58 1090.4,1226C1093.87,1227.42 1097.33,1230.27 1100.8,1231.25C1104.28,1232.23 1107.77,1232.47 1111.25,1233.3C1114.73,1234.13 1118.22,1235.44 1121.7,1236.5C1125.13,1237.54 1128.57,1238.43 1132,1239.6C1135.5,1240.8 1139,1243 1142.5,1243.75C1146,1244.5 1149.5,1245.3 1153,1245.3C1156.43,1245.3 1159.87,1244.6 1163.3,1244.3C1170.2,1243.7 1177.1,1243.23 1184,1242.7C1191,1242.16 1198,1241.7 1205,1241.1C1210.2,1240.66 1215.4,1239.8 1220.6,1239.6C1229.3,1239.26 1238,1239.24 1246.7,1239C1251.9,1238.86 1257.1,1238.5 1262.3,1238.5C1268.2,1238.5 1274.1,1240 1280,1240C1286.93,1240 1293.87,1236.5 1300.8,1236.5C1304.28,1236.5 1307.77,1237 1311.25,1237.5C1315.77,1238.15 1320.28,1241.7 1324.8,1241.7C1328.97,1241.7 1333.13,1239.7 1337.3,1238.5C1341.47,1237.3 1345.63,1234.4 1349.8,1234.4C1354.3,1234.4 1358.8,1235.58 1363.3,1236.5C1365.73,1237 1368.17,1238.5 1370.6,1238.5C1375.13,1238.5 1379.67,1233.55 1384.2,1232.3C1387.67,1231.35 1391.13,1230.84 1394.6,1230.2C1399.8,1229.24 1405,1228.67 1410.2,1227.6C1415.4,1226.53 1420.6,1223.4 1425.8,1223.4C1431.03,1223.4 1436.27,1223.4 1441.5,1223.4C1444.6,1223.4 1447.7,1222.07 1450.8,1220.8C1454.63,1219.23 1458.47,1213.33 1462.3,1211.5C1466.47,1209.51 1470.63,1207.3 1474.8,1207.3C1476.53,1207.3 1478.27,1207.39 1480,1207.5C1484.6,1207.79 1489.2,1214 1493.8,1214C1497,1214 1500.2,1211.85 1503.4,1209.8C1507.07,1207.45 1510.73,1199.22 1514.4,1196C1518.53,1192.37 1522.67,1187.7 1526.8,1187.7C1530.5,1187.7 1534.2,1190.15 1537.9,1191.9C1541.57,1193.63 1545.23,1198.8 1548.9,1198.8C1551.63,1198.8 1554.37,1196.83 1557.1,1194.6C1559.87,1192.35 1562.63,1183.68 1565.4,1178C1569.07,1170.47 1572.73,1159.16 1576.4,1154.7C1579.6,1150.81 1582.8,1146.4 1586,1146.4C1590.17,1146.4 1594.33,1154.7 1598.5,1154.7C1601.23,1154.7 1603.97,1149.18 1606.7,1143.7C1609.47,1138.15 1612.23,1116.76 1615,1110.6C1617.83,1104.29 1620.67,1097.5 1623.5,1097.5C1626.17,1097.5 1628.83,1099.7 1631.5,1102.3C1633.8,1104.54 1636.1,1113.38 1638.4,1118.9C1640.7,1124.42 1643,1131.17 1645.3,1135.4C1648.1,1140.55 1650.9,1145.39 1653.7,1147.8C1657.8,1151.33 1661.9,1152.73 1666,1155C1671.1,1157.82 1676.2,1160.7 1681.3,1163C1685.9,1165.08 1690.5,1166.16 1695.1,1168.5C1697.87,1169.91 1700.63,1171.54 1703.4,1174C1706.13,1176.43 1708.87,1181.64 1711.6,1185C1715.27,1189.51 1718.93,1196.2 1722.6,1197.4C1724.9,1198.15 1727.2,1198.8 1729.5,1198.8C1734.1,1198.8 1738.7,1190.5 1743.3,1190.5C1746.53,1190.5 1749.77,1191.71 1753,1193.25C1755.73,1194.55 1758.47,1201.44 1761.2,1204.3C1764.43,1207.68 1767.67,1212.5 1770.9,1212.5C1773.63,1212.5 1776.37,1212.18 1779.1,1211.8C1783.23,1211.22 1787.37,1205 1791.5,1205C1794.33,1205 1797.17,1206.31 1800,1207.5C1803.1,1208.8 1806.2,1212.69 1809.3,1214.5C1811.7,1215.9 1814.1,1218 1816.5,1218C1820.17,1218 1823.83,1215.01 1827.5,1213.4C1830.53,1212.07 1833.57,1209.2 1836.6,1209.2C1841.5,1209.2 1846.4,1211.5 1851.3,1211.5C1855.53,1211.5 1859.77,1209.14 1864,1207.9C1867.07,1207 1870.13,1205.1 1873.2,1205.1C1876.27,1205.1 1879.33,1206.19 1882.4,1207C1886.97,1208.21 1891.53,1212.4 1896.1,1212.4C1899.17,1212.4 1902.23,1209.36 1905.3,1207.9C1909.27,1206.01 1913.23,1202.4 1917.2,1202.4C1920.83,1202.4 1924.47,1205.98 1928.1,1207.9C1932.7,1210.33 1937.3,1215.16 1941.9,1215.6C1944.93,1215.89 1947.97,1216.1 1951,1216.1C1954.97,1216.1 1958.93,1213.4 1962.9,1213.4C1966.57,1213.4 1970.23,1215.27 1973.9,1216.1C1976.93,1216.78 1979.97,1217.42 1983,1218" fill="none" stroke="#36AD6C"/>
<path d="M286.9,1195.2V1248M1984.3,1218V1248" fill="none" stroke="#36AD6C"/>
</g>
<g font-size="65.5" text-anchor="end">
<text transform="translate(248.7,1267.2) scale(1,1.03)">0</text>
<text transform="translate(248.7,1029.7) scale(1,1.03)">500</text>
<text transform="translate(248.7,792.2) scale(1,1.03)">1000</text>
<text transform="translate(248.7,554.7) scale(1,1.03)">1500</text>
<text transform="translate(248.7,317.2) scale(1,1.03)">2000</text>
<text transform="translate(248.7,79.7) scale(1,1.03)">2500</text>
</g>
<g font-size="65.5" text-anchor="middle">
<text transform="translate(286,1334.7) scale(1,1.03)">0</text>
<text transform="translate(498.4,1334.7) scale(1,1.03)">200</text>
<text transform="translate(710.8,1334.7) scale(1,1.03)">400</text>
<text transform="translate(923.1,1334.7) scale(1,1.03)">600</text>
<text transform="translate(1135.5,1334.7) scale(1,1.03)">800</text>
<text transform="translate(1347.9,1334.7) scale(1,1.03)">1000</text>
<text transform="translate(1560.3,1334.7) scale(1,1.03)">1200</text>
<text transform="translate(1772.6,1334.7) scale(1,1.03)">1400</text>
<text transform="translate(1985,1334.7) scale(1,1.03)">1600</text>
</g>
<text x="1135" y="1451.5" font-size="76" text-anchor="middle">Frequency(f)/Hz</text>
<text transform="translate(91,655) rotate(-90)" font-size="76" text-anchor="middle">Amplitude/(m/s<tspan font-size="52" dy="-31">2</tspan><tspan dy="31">)/N</tspan></text>
<!-- LEGEND -->
<g stroke-width="4.3">
<rect x="836.1" y="215.9" width="128.7" height="62.8" fill="#FFD0EC" stroke="#505050" stroke-opacity="0.75"/>
<rect x="836.1" y="289" width="128.7" height="62.8" fill="#EAFBD5" stroke="#F04040" stroke-opacity="0.75"/>
<rect x="836.1" y="362.1" width="128.7" height="62.8" fill="#CAFFFC" stroke="#1B6FE0" stroke-opacity="0.75"/>
<rect x="836.1" y="434.4" width="128.7" height="62.8" fill="#F8D0FD" stroke="#36AD6C" stroke-opacity="0.75"/>
</g>
<g font-size="57.7">
<text transform="translate(982,266.8) scale(1,1.055)">Specimen 1</text>
<text transform="translate(982,339.3) scale(1,1.055)">Specimen 2</text>
<text transform="translate(982,411.8) scale(1,1.055)">Specimen 3</text>
<text transform="translate(982,484.3) scale(1,1.055)">Specimen 4</text>
</g>
</svg>
</body></html>
